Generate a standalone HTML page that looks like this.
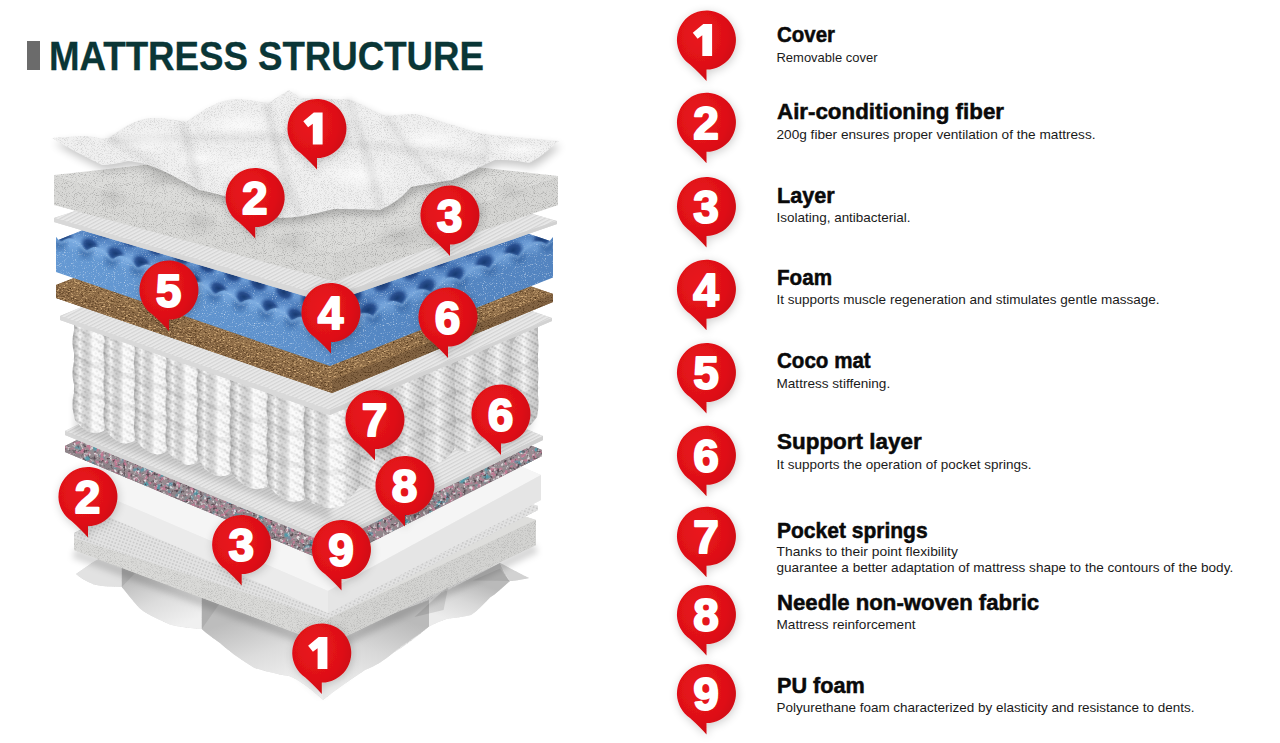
<!DOCTYPE html><html><head><meta charset="utf-8"><style>svg text{font-family:"Liberation Sans", sans-serif}html,body{margin:0;padding:0;background:#fff;width:1280px;height:743px;overflow:hidden}</style></head><body><svg width="1280" height="743" viewBox="0 0 1280 743" style="display:block">
<defs>
<radialGradient id="rg" cx="0.4" cy="0.35" r="0.7"><stop offset="0" stop-color="#ea161e"/><stop offset="0.65" stop-color="#de1017"/><stop offset="1" stop-color="#c9090f"/></radialGradient>
<filter id="sh" x="-40%" y="-40%" width="180%" height="180%"><feGaussianBlur in="SourceAlpha" stdDeviation="5"/><feOffset dx="1" dy="2"/><feComponentTransfer><feFuncA type="linear" slope="0.2"/></feComponentTransfer><feMerge><feMergeNode/><feMergeNode in="SourceGraphic"/></feMerge></filter>

<linearGradient id="gBlueL" x1="0" y1="0" x2="1" y2="0"><stop offset="0" stop-color="#6599d3"/><stop offset="1" stop-color="#5d90cb"/></linearGradient>
<linearGradient id="gBlueR" x1="0" y1="0" x2="1" y2="0"><stop offset="0" stop-color="#5588c4"/><stop offset="1" stop-color="#5384c0"/></linearGradient>
<pattern id="pMesh" width="3.2" height="3.2" patternUnits="userSpaceOnUse" patternTransform="rotate(62)"><rect width="3.2" height="3.2" fill="#e8e8e8"/><rect width="1.2" height="3.2" fill="#d4d4d4"/></pattern>
<pattern id="pMeshR" width="3.2" height="3.2" patternUnits="userSpaceOnUse" patternTransform="rotate(-62)"><rect width="3.2" height="3.2" fill="#e4e4e4"/><rect width="1.2" height="3.2" fill="#d0d0d0"/></pattern>
<pattern id="pDots" width="3.4" height="3.4" patternUnits="userSpaceOnUse" patternTransform="rotate(20)"><rect width="3.4" height="3.4" fill="#e2e2e2"/><circle cx="1.7" cy="1.7" r="0.85" fill="#c4c4c4"/></pattern>
<pattern id="pKnit" width="4" height="4" patternUnits="userSpaceOnUse" patternTransform="rotate(-30)"><rect width="4" height="4" fill="#f6f6f6"/><circle cx="2" cy="2" r="0.9" fill="#d4d4d4"/></pattern>
<pattern id="pKnitR" width="3.6" height="4" patternUnits="userSpaceOnUse" patternTransform="rotate(30)"><rect width="3.6" height="4" fill="#f2f2f2"/><circle cx="1.8" cy="2" r="0.9" fill="#d0d0d0"/></pattern>
<pattern id="pCrease" width="12" height="8" patternUnits="userSpaceOnUse" patternTransform="rotate(30)"><rect width="12" height="8" fill="#fff" fill-opacity="0"/><rect y="5" width="12" height="2.2" fill="#000" fill-opacity="0.09"/><rect y="2" width="12" height="2" fill="#fff" fill-opacity="0.25"/></pattern>
<linearGradient id="gCol" x1="0" y1="0" x2="1" y2="0"><stop offset="0" stop-color="#000" stop-opacity="0.28"/><stop offset="0.22" stop-color="#000" stop-opacity="0.0"/><stop offset="0.6" stop-color="#fff" stop-opacity="0.55"/><stop offset="0.88" stop-color="#fff" stop-opacity="0.1"/><stop offset="1" stop-color="#000" stop-opacity="0.12"/></linearGradient>
<linearGradient id="gColR" x1="0" y1="0" x2="1" y2="0"><stop offset="0" stop-color="#000" stop-opacity="0.10"/><stop offset="0.45" stop-color="#fff" stop-opacity="0.25"/><stop offset="1" stop-color="#000" stop-opacity="0.18"/></linearGradient>
<radialGradient id="gBump" cx="0.45" cy="0.4" r="0.55"><stop offset="0" stop-color="#6e9fd8"/><stop offset="0.6" stop-color="#5f90cc"/><stop offset="1" stop-color="#4a7bbb" stop-opacity="0"/></radialGradient>
<radialGradient id="gDip" cx="0.5" cy="0.5" r="0.5"><stop offset="0" stop-color="#183a70" stop-opacity="1"/><stop offset="0.55" stop-color="#24498a" stop-opacity="0.9"/><stop offset="1" stop-color="#3a6aac" stop-opacity="0"/></radialGradient>
<linearGradient id="gCoverShade" x1="0" y1="0" x2="0" y2="1"><stop offset="0" stop-color="#fff" stop-opacity="0.25"/><stop offset="1" stop-color="#000" stop-opacity="0.08"/></linearGradient>
<radialGradient id="gFold" cx="0.5" cy="0.5" r="0.5"><stop offset="0" stop-color="#000" stop-opacity="0.08"/><stop offset="1" stop-color="#000" stop-opacity="0"/></radialGradient>
<radialGradient id="gHi" cx="0.5" cy="0.5" r="0.5"><stop offset="0" stop-color="#fff" stop-opacity="0.7"/><stop offset="1" stop-color="#fff" stop-opacity="0"/></radialGradient>
<linearGradient id="gP1" gradientUnits="userSpaceOnUse" x1="150" y1="570" x2="175" y2="628"><stop offset="0" stop-color="#bdbdbd"/><stop offset="0.5" stop-color="#dcdcdc"/><stop offset="1" stop-color="#f0f0f0"/></linearGradient>
<linearGradient id="gP2" gradientUnits="userSpaceOnUse" x1="250" y1="615" x2="275" y2="690"><stop offset="0" stop-color="#bdbdbd"/><stop offset="0.5" stop-color="#dcdcdc"/><stop offset="1" stop-color="#f0f0f0"/></linearGradient>
<linearGradient id="gP3" gradientUnits="userSpaceOnUse" x1="390" y1="615" x2="365" y2="690"><stop offset="0" stop-color="#bababa"/><stop offset="0.5" stop-color="#d8d8d8"/><stop offset="1" stop-color="#ececec"/></linearGradient>
<linearGradient id="gP4" gradientUnits="userSpaceOnUse" x1="470" y1="580" x2="455" y2="622"><stop offset="0" stop-color="#bababa"/><stop offset="0.5" stop-color="#d8d8d8"/><stop offset="1" stop-color="#ececec"/></linearGradient>
<linearGradient id="gPillowL" x1="0" y1="0" x2="0.3" y2="1"><stop offset="0" stop-color="#c9c9c9"/><stop offset="0.45" stop-color="#e4e4e4"/><stop offset="1" stop-color="#eeeeee"/></linearGradient>
<linearGradient id="gPillowR" x1="1" y1="0" x2="0.6" y2="1"><stop offset="0" stop-color="#c6c6c6"/><stop offset="0.45" stop-color="#dedede"/><stop offset="1" stop-color="#e9e9e9"/></linearGradient>
<filter id="blur4" x="-10%" y="-10%" width="120%" height="130%"><feGaussianBlur stdDeviation="4"/></filter><filter id="blur3" x="-20%" y="-20%" width="140%" height="140%"><feGaussianBlur stdDeviation="3"/></filter><filter id="blur1" x="-5%" y="-20%" width="110%" height="140%"><feGaussianBlur stdDeviation="1"/></filter><filter id="nSpeckW" x="0" y="0" width="100%" height="100%" color-interpolation-filters="sRGB"><feTurbulence type="fractalNoise" baseFrequency="0.9" numOctaves="1" seed="2" result="t"/><feColorMatrix in="t" type="matrix" values="0 0 0 0 1 0 0 0 0 1 0 0 0 0 1 2.5 0 0 0 -1.45" result="m"/><feComposite in="m" in2="SourceAlpha" operator="in" result="s"/><feMerge><feMergeNode in="SourceGraphic"/><feMergeNode in="s"/></feMerge></filter><filter id="nSpeckD" x="0" y="0" width="100%" height="100%" color-interpolation-filters="sRGB"><feTurbulence type="fractalNoise" baseFrequency="1.1" numOctaves="1" seed="5" result="t"/><feColorMatrix in="t" type="matrix" values="0 0 0 0 0 0 0 0 0 0 0 0 0 0 0 0.8 0 0 0 -0.42" result="m"/><feComposite in="m" in2="SourceAlpha" operator="in" result="s"/><feMerge><feMergeNode in="SourceGraphic"/><feMergeNode in="s"/></feMerge></filter><filter id="nFine" x="0" y="0" width="100%" height="100%" color-interpolation-filters="sRGB"><feTurbulence type="fractalNoise" baseFrequency="1.3" numOctaves="1" seed="21" result="t"/><feColorMatrix in="t" type="matrix" values="0 0 0 0 0 0 0 0 0 0 0 0 0 0 0 0.45 0 0 0 -0.22" result="m"/><feComposite in="m" in2="SourceAlpha" operator="in" result="s"/><feMerge><feMergeNode in="SourceGraphic"/><feMergeNode in="s"/></feMerge></filter><filter id="nCoco" x="0" y="0" width="100%" height="100%" color-interpolation-filters="sRGB"><feTurbulence type="fractalNoise" baseFrequency="0.6 1.2" numOctaves="2" seed="7" result="t"/><feColorMatrix in="t" type="matrix" values="0 0 0 0 0.28 0 0 0 0 0.18 0 0 0 0 0.08 2.8 0 0 0 -1.4" result="m"/><feComposite in="m" in2="SourceAlpha" operator="in" result="s"/><feMerge><feMergeNode in="SourceGraphic"/><feMergeNode in="s"/></feMerge></filter><filter id="nCocoL" x="0" y="0" width="100%" height="100%" color-interpolation-filters="sRGB"><feTurbulence type="fractalNoise" baseFrequency="0.35 1.2" numOctaves="2" seed="9" result="t"/><feColorMatrix in="t" type="matrix" values="0 0 0 0 0.85 0 0 0 0 0.7 0 0 0 0 0.5 4.0 0 0 0 -2.15" result="m"/><feComposite in="m" in2="SourceAlpha" operator="in" result="s"/><feMerge><feMergeNode in="s"/></feMerge></filter><filter id="nNeedle" x="0" y="0" width="100%" height="100%" color-interpolation-filters="sRGB"><feTurbulence type="fractalNoise" baseFrequency="0.22" numOctaves="2" seed="11" result="t"/><feColorMatrix in="t" type="matrix" values="0 0 0 0 0.76 0 0 0 0 0.48 0 0 0 0 0.58 5 0 0 0 -2.5" result="m"/><feComposite in="m" in2="SourceAlpha" operator="in" result="s"/><feMerge><feMergeNode in="SourceGraphic"/><feMergeNode in="s"/></feMerge></filter><filter id="nNeedleD" x="0" y="0" width="100%" height="100%" color-interpolation-filters="sRGB"><feTurbulence type="fractalNoise" baseFrequency="0.3" numOctaves="2" seed="19" result="t"/><feColorMatrix in="t" type="matrix" values="0 0 0 0 0.35 0 0 0 0 0.3 0 0 0 0 0.33 5 0 0 0 -2.8" result="m"/><feComposite in="m" in2="SourceAlpha" operator="in" result="s"/><feMerge><feMergeNode in="s"/></feMerge></filter><filter id="nNeedle2" x="0" y="0" width="100%" height="100%" color-interpolation-filters="sRGB"><feTurbulence type="fractalNoise" baseFrequency="0.12" numOctaves="2" seed="13" result="t"/><feColorMatrix in="t" type="matrix" values="0 0 0 0 0.32 0 0 0 0 0.6 0 0 0 0 0.66 6 0 0 0 -3.45" result="m"/><feComposite in="m" in2="SourceAlpha" operator="in" result="s"/><feMerge><feMergeNode in="s"/></feMerge></filter><filter id="nNeedle3" x="0" y="0" width="100%" height="100%" color-interpolation-filters="sRGB"><feTurbulence type="fractalNoise" baseFrequency="0.3" numOctaves="2" seed="17" result="t"/><feColorMatrix in="t" type="matrix" values="0 0 0 0 0.88 0 0 0 0 0.86 0 0 0 0 0.87 4.5 0 0 0 -2.5" result="m"/><feComposite in="m" in2="SourceAlpha" operator="in" result="s"/><feMerge><feMergeNode in="s"/></feMerge></filter>
</defs>
<rect width="1280" height="743" fill="#fff"/>
<rect x="27" y="41" width="13" height="29" fill="#6b6b6b"/>
<text x="49" y="70" font-size="41.3" font-weight="bold" fill="#0a3636" stroke="#0a3636" stroke-width="0.3" textLength="435" lengthAdjust="spacingAndGlyphs">MATTRESS STRUCTURE</text>
<g><path d="M76,574 C88,566 96,559 104,557 L121.8,552 L329,625 L448,586 L500,563 L529,578 C520,580 514,581 510,581 C502,588 496,594 490,597.5 C483,605 477,611 471,615 C463,617 455,618 448,618.5 C440,621 434,624 429,626.5 C418,636 405,646 393,653 C385,660 375,666 365,670 C350,680 335,690 323,700 C312,690 300,680 289,676 C275,674 262,670 254.5,668 C238,658 228,650 220,643 C210,636 205,632 201.8,629 C185,628 175,626 169.8,624.6 C155,618 145,613 140,608.6 C132,600 126,592 121.8,587 C110,587 100,586 94,584.6 C86,581 80,578 76,574 Z" fill="#e4e4e4" filter="url(#nFine)"/><path d="M76,574 C88,566 96,559 104,557 L121.8,556 L121.8,587 C110,587 100,586 94,584.6 C86,581 80,578 76,574 Z" fill="#e2e2e2"/><path d="M121.8,556 L201.8,588 L201.8,629 C185,628 175,626 169.8,624.6 C155,618 145,613 140,608.6 C132,600 126,592 121.8,587 Z" fill="url(#gP1)"/><path d="M201.8,590 L323,640 L323,700 C312,690 300,680 289,676 C275,674 262,670 254.5,668 C238,658 228,650 220,643 C210,636 205,632 201.8,629 Z" fill="url(#gP2)"/><path d="M323,640 L429,600 L429,626.5 C418,636 400,646 393,653 C385,660 375,666 365,670 C350,680 335,690 323,700 Z" fill="url(#gP3)"/><path d="M429,600 L500,563 C505,575 508,580 510,581 C502,588 496,594 490,597.5 C483,605 477,611 471,615 C463,617 455,618 448,618.5 C440,621 434,624 429,626.5 Z" fill="url(#gP4)"/><path d="M500,563 C510,568 520,574 529,578 C520,580 514,581 510,581 C506,576 503,570 500,563 Z" fill="#d2d2d2"/><path d="M448.4,586 L414.5,617 L443.6,610 Z" fill="#000" opacity="0.10"/><path d="M472.6,580.5 L509.8,581 L500,568.4 Z" fill="#000" opacity="0.08"/><path d="M121.8,556 L140,568 L121.8,587 Z" fill="#000" opacity="0.08"/><path d="M201.8,590 L222,600 L201.8,629 Z" fill="#000" opacity="0.08"/><path d="M74,553 L328,648 L536,548" fill="none" stroke="#000" stroke-opacity="0.16" stroke-width="10" filter="url(#blur3)"/><path d="M74.0,538.0 L282.0,439.0 L536.0,520.0 L536.0,545.0 L328.0,645.0 L74.0,550.0 Z" fill="#d9d9d7" /><path d="M74.0,538.0 L282.0,439.0 L536.0,520.0 L328.0,619.0 Z" fill="#dededc" /><path d="M74.0,538.0 L328.0,619.0 L328.0,645.0 L74.0,550.0 Z" fill="#d9d9d7" filter="url(#nFine)"/><path d="M328.0,619.0 L536.0,520.0 L536.0,545.0 L328.0,645.0 Z" fill="#d3d3d1" filter="url(#nFine)"/><path d="M74.0,533.0 L284.0,426.0 L538.0,506.0 L538.0,510.0 L328.0,619.0 L74.0,538.0 Z" fill="#d6d6d6" /><path d="M74.0,533.0 L284.0,426.0 L538.0,506.0 L328.0,613.0 Z" fill="url(#pDots)" /><path d="M74.0,533.0 L328.0,613.0 L328.0,619.0 L74.0,538.0 Z" fill="url(#pDots)" /><path d="M328.0,613.0 L538.0,506.0 L538.0,510.0 L328.0,619.0 Z" fill="url(#pDots)" /><path d="M73.0,482.0 L286.0,366.0 L541.0,475.0 L541.0,500.0 L328.0,613.0 L73.0,501.0 Z" fill="#ebebeb" /><path d="M73.0,482.0 L286.0,366.0 L541.0,475.0 L328.0,591.0 Z" fill="#f5f5f5" /><path d="M73.0,482.0 L328.0,591.0 L328.0,613.0 L73.0,501.0 Z" fill="#ebebeb" /><path d="M328.0,591.0 L541.0,475.0 L541.0,500.0 L328.0,613.0 Z" fill="#e5e5e5" /><path d="M65.0,446.0 L277.0,340.0 L542.0,450.0 L542.0,456.0 L330.0,563.0 L65.0,452.0 Z" fill="#8e8489" /><path d="M65.0,446.0 L277.0,340.0 L542.0,450.0 L330.0,556.0 Z" fill="#968c91" filter="url(#nNeedle)"/><path d="M65.0,446.0 L330.0,556.0 L330.0,563.0 L65.0,452.0 Z" fill="#8e8489" filter="url(#nNeedle)"/><path d="M330.0,556.0 L542.0,450.0 L542.0,456.0 L330.0,563.0 Z" fill="#91878c" filter="url(#nNeedle)"/><path d="M65.0,446.0 L290.0,340.0 L542.0,450.0 L542.0,456.0 L330.0,563.0 L65.0,452.0 Z" fill="#000" filter="url(#nNeedle2)"/><path d="M65.0,446.0 L290.0,340.0 L542.0,450.0 L542.0,456.0 L330.0,563.0 L65.0,452.0 Z" fill="#000" filter="url(#nNeedle3)"/><path d="M65.0,446.0 L290.0,340.0 L542.0,450.0 L542.0,456.0 L330.0,563.0 L65.0,452.0 Z" fill="#000" filter="url(#nNeedleD)"/><path d="M65.0,431.0 L278.0,327.0 L543.0,436.0 L543.0,440.0 L330.0,544.0 L65.0,435.0 Z" fill="#d6d6d6" /><path d="M65.0,431.0 L278.0,327.0 L543.0,436.0 L330.0,540.0 Z" fill="url(#pMesh)" /><path d="M65.0,431.0 L330.0,540.0 L330.0,544.0 L65.0,435.0 Z" fill="#d6d6d6" /><path d="M330.0,540.0 L543.0,436.0 L543.0,440.0 L330.0,544.0 Z" fill="#d0d0d0" /><path d="M74.0,320.0 L330.0,408.0 L330.0,498.0 L74.0,410.0 Z" fill="#b4b4b4" /><path d="M330.0,408.0 L538.0,326.0 L538.0,407.0 L330.0,499.0 Z" fill="#b8b8b8" /><path d="M74.0,394.0 L330.0,482.0 L330.0,520.0 L74.0,432.0 Z" fill="#000" opacity="0.12" filter="url(#blur3)"/><path d="M331.0,414.0 Q345.0,390.2 359.0,402.2 L359.0,402.2 L359.8,406.9 L360.3,411.6 L360.5,416.3 L360.3,421.1 L359.8,425.8 L359.0,430.5 L359.8,435.2 L360.3,440.0 L360.5,444.7 L360.3,449.4 L359.8,454.1 L359.0,458.8 L359.8,463.6 L360.3,468.3 L360.5,473.0 L360.3,477.7 L359.8,482.5 L359.0,487.2 Q345.0,507.0 331.0,499.0 L331.0,499.0 L330.2,494.3 L329.7,489.6 L329.5,484.8 L329.7,480.1 L330.2,475.4 L331.0,470.7 L330.2,465.9 L329.7,461.2 L329.5,456.5 L329.7,451.8 L330.2,447.1 L331.0,442.3 L330.2,437.6 L329.7,432.9 L329.5,428.2 L329.7,423.4 L330.2,418.7 L331.0,414.0 Z" fill="url(#pKnitR)"/><path d="M331.0,414.0 Q345.0,390.2 359.0,402.2 L359.0,402.2 L359.8,406.9 L360.3,411.6 L360.5,416.3 L360.3,421.1 L359.8,425.8 L359.0,430.5 L359.8,435.2 L360.3,440.0 L360.5,444.7 L360.3,449.4 L359.8,454.1 L359.0,458.8 L359.8,463.6 L360.3,468.3 L360.5,473.0 L360.3,477.7 L359.8,482.5 L359.0,487.2 Q345.0,507.0 331.0,499.0 L331.0,499.0 L330.2,494.3 L329.7,489.6 L329.5,484.8 L329.7,480.1 L330.2,475.4 L331.0,470.7 L330.2,465.9 L329.7,461.2 L329.5,456.5 L329.7,451.8 L330.2,447.1 L331.0,442.3 L330.2,437.6 L329.7,432.9 L329.5,428.2 L329.7,423.4 L330.2,418.7 L331.0,414.0 Z" fill="url(#pCrease)"/><path d="M331.0,414.0 Q345.0,390.2 359.0,402.2 L359.0,402.2 L359.8,406.9 L360.3,411.6 L360.5,416.3 L360.3,421.1 L359.8,425.8 L359.0,430.5 L359.8,435.2 L360.3,440.0 L360.5,444.7 L360.3,449.4 L359.8,454.1 L359.0,458.8 L359.8,463.6 L360.3,468.3 L360.5,473.0 L360.3,477.7 L359.8,482.5 L359.0,487.2 Q345.0,507.0 331.0,499.0 L331.0,499.0 L330.2,494.3 L329.7,489.6 L329.5,484.8 L329.7,480.1 L330.2,475.4 L331.0,470.7 L330.2,465.9 L329.7,461.2 L329.5,456.5 L329.7,451.8 L330.2,447.1 L331.0,442.3 L330.2,437.6 L329.7,432.9 L329.5,428.2 L329.7,423.4 L330.2,418.7 L331.0,414.0 Z" fill="url(#gColR)"/><path d="M330.0,442.3 Q345.0,441.4 360.0,427.5" stroke="#000" stroke-opacity="0.045" stroke-width="6" fill="none"/><path d="M330.0,470.7 Q345.0,469.8 360.0,455.8" stroke="#000" stroke-opacity="0.045" stroke-width="6" fill="none"/><path d="M361.0,402.2 Q376.0,377.6 391.0,389.6 L391.0,389.6 L391.8,394.3 L392.3,399.0 L392.5,403.7 L392.3,408.4 L391.8,413.2 L391.0,417.9 L391.8,422.6 L392.3,427.3 L392.5,432.1 L392.3,436.8 L391.8,441.5 L391.0,446.2 L391.8,450.9 L392.3,455.7 L392.5,460.4 L392.3,465.1 L391.8,469.8 L391.0,474.6 Q376.0,495.2 361.0,487.2 L361.0,487.2 L360.2,482.5 L359.7,477.7 L359.5,473.0 L359.7,468.3 L360.2,463.6 L361.0,458.8 L360.2,454.1 L359.7,449.4 L359.5,444.7 L359.7,440.0 L360.2,435.2 L361.0,430.5 L360.2,425.8 L359.7,421.1 L359.5,416.3 L359.7,411.6 L360.2,406.9 L361.0,402.2 Z" fill="url(#pKnitR)"/><path d="M361.0,402.2 Q376.0,377.6 391.0,389.6 L391.0,389.6 L391.8,394.3 L392.3,399.0 L392.5,403.7 L392.3,408.4 L391.8,413.2 L391.0,417.9 L391.8,422.6 L392.3,427.3 L392.5,432.1 L392.3,436.8 L391.8,441.5 L391.0,446.2 L391.8,450.9 L392.3,455.7 L392.5,460.4 L392.3,465.1 L391.8,469.8 L391.0,474.6 Q376.0,495.2 361.0,487.2 L361.0,487.2 L360.2,482.5 L359.7,477.7 L359.5,473.0 L359.7,468.3 L360.2,463.6 L361.0,458.8 L360.2,454.1 L359.7,449.4 L359.5,444.7 L359.7,440.0 L360.2,435.2 L361.0,430.5 L360.2,425.8 L359.7,421.1 L359.5,416.3 L359.7,411.6 L360.2,406.9 L361.0,402.2 Z" fill="url(#pCrease)"/><path d="M361.0,402.2 Q376.0,377.6 391.0,389.6 L391.0,389.6 L391.8,394.3 L392.3,399.0 L392.5,403.7 L392.3,408.4 L391.8,413.2 L391.0,417.9 L391.8,422.6 L392.3,427.3 L392.5,432.1 L392.3,436.8 L391.8,441.5 L391.0,446.2 L391.8,450.9 L392.3,455.7 L392.5,460.4 L392.3,465.1 L391.8,469.8 L391.0,474.6 Q376.0,495.2 361.0,487.2 L361.0,487.2 L360.2,482.5 L359.7,477.7 L359.5,473.0 L359.7,468.3 L360.2,463.6 L361.0,458.8 L360.2,454.1 L359.7,449.4 L359.5,444.7 L359.7,440.0 L360.2,435.2 L361.0,430.5 L360.2,425.8 L359.7,421.1 L359.5,416.3 L359.7,411.6 L360.2,406.9 L361.0,402.2 Z" fill="url(#gColR)"/><path d="M360.0,430.5 Q376.0,429.2 392.0,414.9" stroke="#000" stroke-opacity="0.045" stroke-width="6" fill="none"/><path d="M360.0,458.8 Q376.0,457.5 392.0,443.2" stroke="#000" stroke-opacity="0.045" stroke-width="6" fill="none"/><path d="M393.0,389.6 Q408.0,364.9 423.0,376.9 L423.0,376.9 L423.8,381.7 L424.3,386.4 L424.5,391.1 L424.3,395.8 L423.8,400.6 L423.0,405.3 L423.8,410.0 L424.3,414.7 L424.5,419.4 L424.3,424.2 L423.8,428.9 L423.0,433.6 L423.8,438.3 L424.3,443.1 L424.5,447.8 L424.3,452.5 L423.8,457.2 L423.0,461.9 Q408.0,482.6 393.0,474.6 L393.0,474.6 L392.2,469.8 L391.7,465.1 L391.5,460.4 L391.7,455.7 L392.2,450.9 L393.0,446.2 L392.2,441.5 L391.7,436.8 L391.5,432.1 L391.7,427.3 L392.2,422.6 L393.0,417.9 L392.2,413.2 L391.7,408.4 L391.5,403.7 L391.7,399.0 L392.2,394.3 L393.0,389.6 Z" fill="url(#pKnitR)"/><path d="M393.0,389.6 Q408.0,364.9 423.0,376.9 L423.0,376.9 L423.8,381.7 L424.3,386.4 L424.5,391.1 L424.3,395.8 L423.8,400.6 L423.0,405.3 L423.8,410.0 L424.3,414.7 L424.5,419.4 L424.3,424.2 L423.8,428.9 L423.0,433.6 L423.8,438.3 L424.3,443.1 L424.5,447.8 L424.3,452.5 L423.8,457.2 L423.0,461.9 Q408.0,482.6 393.0,474.6 L393.0,474.6 L392.2,469.8 L391.7,465.1 L391.5,460.4 L391.7,455.7 L392.2,450.9 L393.0,446.2 L392.2,441.5 L391.7,436.8 L391.5,432.1 L391.7,427.3 L392.2,422.6 L393.0,417.9 L392.2,413.2 L391.7,408.4 L391.5,403.7 L391.7,399.0 L392.2,394.3 L393.0,389.6 Z" fill="url(#pCrease)"/><path d="M393.0,389.6 Q408.0,364.9 423.0,376.9 L423.0,376.9 L423.8,381.7 L424.3,386.4 L424.5,391.1 L424.3,395.8 L423.8,400.6 L423.0,405.3 L423.8,410.0 L424.3,414.7 L424.5,419.4 L424.3,424.2 L423.8,428.9 L423.0,433.6 L423.8,438.3 L424.3,443.1 L424.5,447.8 L424.3,452.5 L423.8,457.2 L423.0,461.9 Q408.0,482.6 393.0,474.6 L393.0,474.6 L392.2,469.8 L391.7,465.1 L391.5,460.4 L391.7,455.7 L392.2,450.9 L393.0,446.2 L392.2,441.5 L391.7,436.8 L391.5,432.1 L391.7,427.3 L392.2,422.6 L393.0,417.9 L392.2,413.2 L391.7,408.4 L391.5,403.7 L391.7,399.0 L392.2,394.3 L393.0,389.6 Z" fill="url(#gColR)"/><path d="M392.0,417.9 Q408.0,416.6 424.0,402.3" stroke="#000" stroke-opacity="0.045" stroke-width="6" fill="none"/><path d="M392.0,446.2 Q408.0,444.9 424.0,430.6" stroke="#000" stroke-opacity="0.045" stroke-width="6" fill="none"/><path d="M425.0,376.9 Q439.5,352.7 454.0,364.7 L454.0,364.7 L454.8,369.4 L455.3,374.2 L455.5,378.9 L455.3,383.6 L454.8,388.3 L454.0,393.1 L454.8,397.8 L455.3,402.5 L455.5,407.2 L455.3,411.9 L454.8,416.7 L454.0,421.4 L454.8,426.1 L455.3,430.8 L455.5,435.6 L455.3,440.3 L454.8,445.0 L454.0,449.7 Q439.5,469.9 425.0,461.9 L425.0,461.9 L424.2,457.2 L423.7,452.5 L423.5,447.8 L423.7,443.1 L424.2,438.3 L425.0,433.6 L424.2,428.9 L423.7,424.2 L423.5,419.4 L423.7,414.7 L424.2,410.0 L425.0,405.3 L424.2,400.6 L423.7,395.8 L423.5,391.1 L423.7,386.4 L424.2,381.7 L425.0,376.9 Z" fill="url(#pKnitR)"/><path d="M425.0,376.9 Q439.5,352.7 454.0,364.7 L454.0,364.7 L454.8,369.4 L455.3,374.2 L455.5,378.9 L455.3,383.6 L454.8,388.3 L454.0,393.1 L454.8,397.8 L455.3,402.5 L455.5,407.2 L455.3,411.9 L454.8,416.7 L454.0,421.4 L454.8,426.1 L455.3,430.8 L455.5,435.6 L455.3,440.3 L454.8,445.0 L454.0,449.7 Q439.5,469.9 425.0,461.9 L425.0,461.9 L424.2,457.2 L423.7,452.5 L423.5,447.8 L423.7,443.1 L424.2,438.3 L425.0,433.6 L424.2,428.9 L423.7,424.2 L423.5,419.4 L423.7,414.7 L424.2,410.0 L425.0,405.3 L424.2,400.6 L423.7,395.8 L423.5,391.1 L423.7,386.4 L424.2,381.7 L425.0,376.9 Z" fill="url(#pCrease)"/><path d="M425.0,376.9 Q439.5,352.7 454.0,364.7 L454.0,364.7 L454.8,369.4 L455.3,374.2 L455.5,378.9 L455.3,383.6 L454.8,388.3 L454.0,393.1 L454.8,397.8 L455.3,402.5 L455.5,407.2 L455.3,411.9 L454.8,416.7 L454.0,421.4 L454.8,426.1 L455.3,430.8 L455.5,435.6 L455.3,440.3 L454.8,445.0 L454.0,449.7 Q439.5,469.9 425.0,461.9 L425.0,461.9 L424.2,457.2 L423.7,452.5 L423.5,447.8 L423.7,443.1 L424.2,438.3 L425.0,433.6 L424.2,428.9 L423.7,424.2 L423.5,419.4 L423.7,414.7 L424.2,410.0 L425.0,405.3 L424.2,400.6 L423.7,395.8 L423.5,391.1 L423.7,386.4 L424.2,381.7 L425.0,376.9 Z" fill="url(#gColR)"/><path d="M424.0,405.3 Q439.5,404.2 455.0,390.1" stroke="#000" stroke-opacity="0.045" stroke-width="6" fill="none"/><path d="M424.0,433.6 Q439.5,432.5 455.0,418.4" stroke="#000" stroke-opacity="0.045" stroke-width="6" fill="none"/><path d="M456.0,364.7 Q470.5,340.5 485.0,352.5 L485.0,352.5 L485.8,357.2 L486.3,361.9 L486.5,366.7 L486.3,371.4 L485.8,376.1 L485.0,380.8 L485.8,385.6 L486.3,390.3 L486.5,395.0 L486.3,399.7 L485.8,404.4 L485.0,409.2 L485.8,413.9 L486.3,418.6 L486.5,423.3 L486.3,428.1 L485.8,432.8 L485.0,437.5 Q470.5,457.7 456.0,449.7 L456.0,449.7 L455.2,445.0 L454.7,440.3 L454.5,435.6 L454.7,430.8 L455.2,426.1 L456.0,421.4 L455.2,416.7 L454.7,411.9 L454.5,407.2 L454.7,402.5 L455.2,397.8 L456.0,393.1 L455.2,388.3 L454.7,383.6 L454.5,378.9 L454.7,374.2 L455.2,369.4 L456.0,364.7 Z" fill="url(#pKnitR)"/><path d="M456.0,364.7 Q470.5,340.5 485.0,352.5 L485.0,352.5 L485.8,357.2 L486.3,361.9 L486.5,366.7 L486.3,371.4 L485.8,376.1 L485.0,380.8 L485.8,385.6 L486.3,390.3 L486.5,395.0 L486.3,399.7 L485.8,404.4 L485.0,409.2 L485.8,413.9 L486.3,418.6 L486.5,423.3 L486.3,428.1 L485.8,432.8 L485.0,437.5 Q470.5,457.7 456.0,449.7 L456.0,449.7 L455.2,445.0 L454.7,440.3 L454.5,435.6 L454.7,430.8 L455.2,426.1 L456.0,421.4 L455.2,416.7 L454.7,411.9 L454.5,407.2 L454.7,402.5 L455.2,397.8 L456.0,393.1 L455.2,388.3 L454.7,383.6 L454.5,378.9 L454.7,374.2 L455.2,369.4 L456.0,364.7 Z" fill="url(#pCrease)"/><path d="M456.0,364.7 Q470.5,340.5 485.0,352.5 L485.0,352.5 L485.8,357.2 L486.3,361.9 L486.5,366.7 L486.3,371.4 L485.8,376.1 L485.0,380.8 L485.8,385.6 L486.3,390.3 L486.5,395.0 L486.3,399.7 L485.8,404.4 L485.0,409.2 L485.8,413.9 L486.3,418.6 L486.5,423.3 L486.3,428.1 L485.8,432.8 L485.0,437.5 Q470.5,457.7 456.0,449.7 L456.0,449.7 L455.2,445.0 L454.7,440.3 L454.5,435.6 L454.7,430.8 L455.2,426.1 L456.0,421.4 L455.2,416.7 L454.7,411.9 L454.5,407.2 L454.7,402.5 L455.2,397.8 L456.0,393.1 L455.2,388.3 L454.7,383.6 L454.5,378.9 L454.7,374.2 L455.2,369.4 L456.0,364.7 Z" fill="url(#gColR)"/><path d="M455.0,393.1 Q470.5,391.9 486.0,377.8" stroke="#000" stroke-opacity="0.045" stroke-width="6" fill="none"/><path d="M455.0,421.4 Q470.5,420.3 486.0,406.2" stroke="#000" stroke-opacity="0.045" stroke-width="6" fill="none"/><path d="M487.0,352.5 Q499.0,330.2 511.0,342.2 L511.0,342.2 L511.8,347.0 L512.3,351.7 L512.5,356.4 L512.3,361.1 L511.8,365.9 L511.0,370.6 L511.8,375.3 L512.3,380.0 L512.5,384.8 L512.3,389.5 L511.8,394.2 L511.0,398.9 L511.8,403.6 L512.3,408.4 L512.5,413.1 L512.3,417.8 L511.8,422.5 L511.0,427.2 Q499.0,445.5 487.0,437.5 L487.0,437.5 L486.2,432.8 L485.7,428.1 L485.5,423.3 L485.7,418.6 L486.2,413.9 L487.0,409.2 L486.2,404.4 L485.7,399.7 L485.5,395.0 L485.7,390.3 L486.2,385.6 L487.0,380.8 L486.2,376.1 L485.7,371.4 L485.5,366.7 L485.7,361.9 L486.2,357.2 L487.0,352.5 Z" fill="url(#pKnitR)"/><path d="M487.0,352.5 Q499.0,330.2 511.0,342.2 L511.0,342.2 L511.8,347.0 L512.3,351.7 L512.5,356.4 L512.3,361.1 L511.8,365.9 L511.0,370.6 L511.8,375.3 L512.3,380.0 L512.5,384.8 L512.3,389.5 L511.8,394.2 L511.0,398.9 L511.8,403.6 L512.3,408.4 L512.5,413.1 L512.3,417.8 L511.8,422.5 L511.0,427.2 Q499.0,445.5 487.0,437.5 L487.0,437.5 L486.2,432.8 L485.7,428.1 L485.5,423.3 L485.7,418.6 L486.2,413.9 L487.0,409.2 L486.2,404.4 L485.7,399.7 L485.5,395.0 L485.7,390.3 L486.2,385.6 L487.0,380.8 L486.2,376.1 L485.7,371.4 L485.5,366.7 L485.7,361.9 L486.2,357.2 L487.0,352.5 Z" fill="url(#pCrease)"/><path d="M487.0,352.5 Q499.0,330.2 511.0,342.2 L511.0,342.2 L511.8,347.0 L512.3,351.7 L512.5,356.4 L512.3,361.1 L511.8,365.9 L511.0,370.6 L511.8,375.3 L512.3,380.0 L512.5,384.8 L512.3,389.5 L511.8,394.2 L511.0,398.9 L511.8,403.6 L512.3,408.4 L512.5,413.1 L512.3,417.8 L511.8,422.5 L511.0,427.2 Q499.0,445.5 487.0,437.5 L487.0,437.5 L486.2,432.8 L485.7,428.1 L485.5,423.3 L485.7,418.6 L486.2,413.9 L487.0,409.2 L486.2,404.4 L485.7,399.7 L485.5,395.0 L485.7,390.3 L486.2,385.6 L487.0,380.8 L486.2,376.1 L485.7,371.4 L485.5,366.7 L485.7,361.9 L486.2,357.2 L487.0,352.5 Z" fill="url(#gColR)"/><path d="M486.0,380.8 Q499.0,380.7 512.0,367.6" stroke="#000" stroke-opacity="0.045" stroke-width="6" fill="none"/><path d="M486.0,409.2 Q499.0,409.0 512.0,395.9" stroke="#000" stroke-opacity="0.045" stroke-width="6" fill="none"/><path d="M513.0,342.2 Q525.0,320.0 537.0,332.0 L537.0,332.0 L537.8,336.7 L538.3,341.4 L538.5,346.2 L538.3,350.9 L537.8,355.6 L537.0,360.3 L537.8,365.1 L538.3,369.8 L538.5,374.5 L538.3,379.2 L537.8,383.9 L537.0,388.7 L537.8,393.4 L538.3,398.1 L538.5,402.8 L538.3,407.6 L537.8,412.3 L537.0,417.0 Q525.0,435.2 513.0,427.2 L513.0,427.2 L512.2,422.5 L511.7,417.8 L511.5,413.1 L511.7,408.4 L512.2,403.6 L513.0,398.9 L512.2,394.2 L511.7,389.5 L511.5,384.8 L511.7,380.0 L512.2,375.3 L513.0,370.6 L512.2,365.9 L511.7,361.1 L511.5,356.4 L511.7,351.7 L512.2,347.0 L513.0,342.2 Z" fill="url(#pKnitR)"/><path d="M513.0,342.2 Q525.0,320.0 537.0,332.0 L537.0,332.0 L537.8,336.7 L538.3,341.4 L538.5,346.2 L538.3,350.9 L537.8,355.6 L537.0,360.3 L537.8,365.1 L538.3,369.8 L538.5,374.5 L538.3,379.2 L537.8,383.9 L537.0,388.7 L537.8,393.4 L538.3,398.1 L538.5,402.8 L538.3,407.6 L537.8,412.3 L537.0,417.0 Q525.0,435.2 513.0,427.2 L513.0,427.2 L512.2,422.5 L511.7,417.8 L511.5,413.1 L511.7,408.4 L512.2,403.6 L513.0,398.9 L512.2,394.2 L511.7,389.5 L511.5,384.8 L511.7,380.0 L512.2,375.3 L513.0,370.6 L512.2,365.9 L511.7,361.1 L511.5,356.4 L511.7,351.7 L512.2,347.0 L513.0,342.2 Z" fill="url(#pCrease)"/><path d="M513.0,342.2 Q525.0,320.0 537.0,332.0 L537.0,332.0 L537.8,336.7 L538.3,341.4 L538.5,346.2 L538.3,350.9 L537.8,355.6 L537.0,360.3 L537.8,365.1 L538.3,369.8 L538.5,374.5 L538.3,379.2 L537.8,383.9 L537.0,388.7 L537.8,393.4 L538.3,398.1 L538.5,402.8 L538.3,407.6 L537.8,412.3 L537.0,417.0 Q525.0,435.2 513.0,427.2 L513.0,427.2 L512.2,422.5 L511.7,417.8 L511.5,413.1 L511.7,408.4 L512.2,403.6 L513.0,398.9 L512.2,394.2 L511.7,389.5 L511.5,384.8 L511.7,380.0 L512.2,375.3 L513.0,370.6 L512.2,365.9 L511.7,361.1 L511.5,356.4 L511.7,351.7 L512.2,347.0 L513.0,342.2 Z" fill="url(#gColR)"/><path d="M512.0,370.6 Q525.0,370.5 538.0,357.3" stroke="#000" stroke-opacity="0.045" stroke-width="6" fill="none"/><path d="M512.0,398.9 Q525.0,398.8 538.0,385.7" stroke="#000" stroke-opacity="0.045" stroke-width="6" fill="none"/><path d="M75.0,326.0 Q89.5,314.0 104.0,336.7 L104.0,336.7 L105.2,341.9 L106.2,347.1 L106.5,352.3 L106.2,357.5 L105.2,362.8 L104.0,368.0 L105.2,373.2 L106.2,378.4 L106.5,383.7 L106.2,388.9 L105.2,394.1 L104.0,399.3 L105.2,404.5 L106.2,409.8 L106.5,415.0 L106.2,420.2 L105.2,425.4 L104.0,430.7 Q89.5,438.7 75.0,420.0 L75.0,420.0 L73.8,414.8 L72.8,409.6 L72.5,404.3 L72.8,399.1 L73.8,393.9 L75.0,388.7 L73.8,383.4 L72.8,378.2 L72.5,373.0 L72.8,367.8 L73.8,362.6 L75.0,357.3 L73.8,352.1 L72.8,346.9 L72.5,341.7 L72.8,336.4 L73.8,331.2 L75.0,326.0 Z" fill="url(#pKnit)"/><path d="M75.0,326.0 Q89.5,314.0 104.0,336.7 L104.0,336.7 L105.2,341.9 L106.2,347.1 L106.5,352.3 L106.2,357.5 L105.2,362.8 L104.0,368.0 L105.2,373.2 L106.2,378.4 L106.5,383.7 L106.2,388.9 L105.2,394.1 L104.0,399.3 L105.2,404.5 L106.2,409.8 L106.5,415.0 L106.2,420.2 L105.2,425.4 L104.0,430.7 Q89.5,438.7 75.0,420.0 L75.0,420.0 L73.8,414.8 L72.8,409.6 L72.5,404.3 L72.8,399.1 L73.8,393.9 L75.0,388.7 L73.8,383.4 L72.8,378.2 L72.5,373.0 L72.8,367.8 L73.8,362.6 L75.0,357.3 L73.8,352.1 L72.8,346.9 L72.5,341.7 L72.8,336.4 L73.8,331.2 L75.0,326.0 Z" fill="url(#pCrease)"/><path d="M75.0,326.0 Q89.5,314.0 104.0,336.7 L104.0,336.7 L105.2,341.9 L106.2,347.1 L106.5,352.3 L106.2,357.5 L105.2,362.8 L104.0,368.0 L105.2,373.2 L106.2,378.4 L106.5,383.7 L106.2,388.9 L105.2,394.1 L104.0,399.3 L105.2,404.5 L106.2,409.8 L106.5,415.0 L106.2,420.2 L105.2,425.4 L104.0,430.7 Q89.5,438.7 75.0,420.0 L75.0,420.0 L73.8,414.8 L72.8,409.6 L72.5,404.3 L72.8,399.1 L73.8,393.9 L75.0,388.7 L73.8,383.4 L72.8,378.2 L72.5,373.0 L72.8,367.8 L73.8,362.6 L75.0,357.3 L73.8,352.1 L72.8,346.9 L72.5,341.7 L72.8,336.4 L73.8,331.2 L75.0,326.0 Z" fill="url(#gCol)"/><path d="M74.0,357.3 Q89.5,367.7 105.0,365.0" stroke="#000" stroke-opacity="0.045" stroke-width="6" fill="none"/><path d="M74.0,388.7 Q89.5,399.0 105.0,396.3" stroke="#000" stroke-opacity="0.045" stroke-width="6" fill="none"/><path d="M106.0,336.7 Q120.2,324.7 134.5,347.1 L134.5,347.1 L135.8,352.4 L136.7,357.6 L137.0,362.8 L136.7,368.0 L135.8,373.3 L134.5,378.5 L135.8,383.7 L136.7,388.9 L137.0,394.1 L136.7,399.4 L135.8,404.6 L134.5,409.8 L135.8,415.0 L136.7,420.3 L137.0,425.5 L136.7,430.7 L135.8,435.9 L134.5,441.1 Q120.2,449.1 106.0,430.7 L106.0,430.7 L104.8,425.4 L103.8,420.2 L103.5,415.0 L103.8,409.8 L104.8,404.5 L106.0,399.3 L104.8,394.1 L103.8,388.9 L103.5,383.7 L103.8,378.4 L104.8,373.2 L106.0,368.0 L104.8,362.8 L103.8,357.5 L103.5,352.3 L103.8,347.1 L104.8,341.9 L106.0,336.7 Z" fill="url(#pKnit)"/><path d="M106.0,336.7 Q120.2,324.7 134.5,347.1 L134.5,347.1 L135.8,352.4 L136.7,357.6 L137.0,362.8 L136.7,368.0 L135.8,373.3 L134.5,378.5 L135.8,383.7 L136.7,388.9 L137.0,394.1 L136.7,399.4 L135.8,404.6 L134.5,409.8 L135.8,415.0 L136.7,420.3 L137.0,425.5 L136.7,430.7 L135.8,435.9 L134.5,441.1 Q120.2,449.1 106.0,430.7 L106.0,430.7 L104.8,425.4 L103.8,420.2 L103.5,415.0 L103.8,409.8 L104.8,404.5 L106.0,399.3 L104.8,394.1 L103.8,388.9 L103.5,383.7 L103.8,378.4 L104.8,373.2 L106.0,368.0 L104.8,362.8 L103.8,357.5 L103.5,352.3 L103.8,347.1 L104.8,341.9 L106.0,336.7 Z" fill="url(#pCrease)"/><path d="M106.0,336.7 Q120.2,324.7 134.5,347.1 L134.5,347.1 L135.8,352.4 L136.7,357.6 L137.0,362.8 L136.7,368.0 L135.8,373.3 L134.5,378.5 L135.8,383.7 L136.7,388.9 L137.0,394.1 L136.7,399.4 L135.8,404.6 L134.5,409.8 L135.8,415.0 L136.7,420.3 L137.0,425.5 L136.7,430.7 L135.8,435.9 L134.5,441.1 Q120.2,449.1 106.0,430.7 L106.0,430.7 L104.8,425.4 L103.8,420.2 L103.5,415.0 L103.8,409.8 L104.8,404.5 L106.0,399.3 L104.8,394.1 L103.8,388.9 L103.5,383.7 L103.8,378.4 L104.8,373.2 L106.0,368.0 L104.8,362.8 L103.8,357.5 L103.5,352.3 L103.8,347.1 L104.8,341.9 L106.0,336.7 Z" fill="url(#gCol)"/><path d="M105.0,368.0 Q120.2,378.2 135.5,375.5" stroke="#000" stroke-opacity="0.045" stroke-width="6" fill="none"/><path d="M105.0,399.3 Q120.2,409.6 135.5,406.8" stroke="#000" stroke-opacity="0.045" stroke-width="6" fill="none"/><path d="M136.5,347.1 Q151.2,335.1 166.0,358.0 L166.0,358.0 L167.2,363.2 L168.2,368.4 L168.5,373.6 L168.2,378.9 L167.2,384.1 L166.0,389.3 L167.2,394.5 L168.2,399.7 L168.5,405.0 L168.2,410.2 L167.2,415.4 L166.0,420.6 L167.2,425.9 L168.2,431.1 L168.5,436.3 L168.2,441.5 L167.2,446.7 L166.0,452.0 Q151.2,460.0 136.5,441.1 L136.5,441.1 L135.2,435.9 L134.3,430.7 L134.0,425.5 L134.3,420.3 L135.2,415.0 L136.5,409.8 L135.2,404.6 L134.3,399.4 L134.0,394.1 L134.3,388.9 L135.2,383.7 L136.5,378.5 L135.2,373.3 L134.3,368.0 L134.0,362.8 L134.3,357.6 L135.2,352.4 L136.5,347.1 Z" fill="url(#pKnit)"/><path d="M136.5,347.1 Q151.2,335.1 166.0,358.0 L166.0,358.0 L167.2,363.2 L168.2,368.4 L168.5,373.6 L168.2,378.9 L167.2,384.1 L166.0,389.3 L167.2,394.5 L168.2,399.7 L168.5,405.0 L168.2,410.2 L167.2,415.4 L166.0,420.6 L167.2,425.9 L168.2,431.1 L168.5,436.3 L168.2,441.5 L167.2,446.7 L166.0,452.0 Q151.2,460.0 136.5,441.1 L136.5,441.1 L135.2,435.9 L134.3,430.7 L134.0,425.5 L134.3,420.3 L135.2,415.0 L136.5,409.8 L135.2,404.6 L134.3,399.4 L134.0,394.1 L134.3,388.9 L135.2,383.7 L136.5,378.5 L135.2,373.3 L134.3,368.0 L134.0,362.8 L134.3,357.6 L135.2,352.4 L136.5,347.1 Z" fill="url(#pCrease)"/><path d="M136.5,347.1 Q151.2,335.1 166.0,358.0 L166.0,358.0 L167.2,363.2 L168.2,368.4 L168.5,373.6 L168.2,378.9 L167.2,384.1 L166.0,389.3 L167.2,394.5 L168.2,399.7 L168.5,405.0 L168.2,410.2 L167.2,415.4 L166.0,420.6 L167.2,425.9 L168.2,431.1 L168.5,436.3 L168.2,441.5 L167.2,446.7 L166.0,452.0 Q151.2,460.0 136.5,441.1 L136.5,441.1 L135.2,435.9 L134.3,430.7 L134.0,425.5 L134.3,420.3 L135.2,415.0 L136.5,409.8 L135.2,404.6 L134.3,399.4 L134.0,394.1 L134.3,388.9 L135.2,383.7 L136.5,378.5 L135.2,373.3 L134.3,368.0 L134.0,362.8 L134.3,357.6 L135.2,352.4 L136.5,347.1 Z" fill="url(#gCol)"/><path d="M135.5,378.5 Q151.2,388.9 167.0,386.3" stroke="#000" stroke-opacity="0.045" stroke-width="6" fill="none"/><path d="M135.5,409.8 Q151.2,420.2 167.0,417.6" stroke="#000" stroke-opacity="0.045" stroke-width="6" fill="none"/><path d="M168.0,358.0 Q182.5,346.0 197.0,368.6 L197.0,368.6 L198.2,373.8 L199.2,379.1 L199.5,384.3 L199.2,389.5 L198.2,394.7 L197.0,400.0 L198.2,405.2 L199.2,410.4 L199.5,415.6 L199.2,420.8 L198.2,426.1 L197.0,431.3 L198.2,436.5 L199.2,441.7 L199.5,447.0 L199.2,452.2 L198.2,457.4 L197.0,462.6 Q182.5,470.6 168.0,452.0 L168.0,452.0 L166.8,446.7 L165.8,441.5 L165.5,436.3 L165.8,431.1 L166.8,425.9 L168.0,420.6 L166.8,415.4 L165.8,410.2 L165.5,405.0 L165.8,399.7 L166.8,394.5 L168.0,389.3 L166.8,384.1 L165.8,378.9 L165.5,373.6 L165.8,368.4 L166.8,363.2 L168.0,358.0 Z" fill="url(#pKnit)"/><path d="M168.0,358.0 Q182.5,346.0 197.0,368.6 L197.0,368.6 L198.2,373.8 L199.2,379.1 L199.5,384.3 L199.2,389.5 L198.2,394.7 L197.0,400.0 L198.2,405.2 L199.2,410.4 L199.5,415.6 L199.2,420.8 L198.2,426.1 L197.0,431.3 L198.2,436.5 L199.2,441.7 L199.5,447.0 L199.2,452.2 L198.2,457.4 L197.0,462.6 Q182.5,470.6 168.0,452.0 L168.0,452.0 L166.8,446.7 L165.8,441.5 L165.5,436.3 L165.8,431.1 L166.8,425.9 L168.0,420.6 L166.8,415.4 L165.8,410.2 L165.5,405.0 L165.8,399.7 L166.8,394.5 L168.0,389.3 L166.8,384.1 L165.8,378.9 L165.5,373.6 L165.8,368.4 L166.8,363.2 L168.0,358.0 Z" fill="url(#pCrease)"/><path d="M168.0,358.0 Q182.5,346.0 197.0,368.6 L197.0,368.6 L198.2,373.8 L199.2,379.1 L199.5,384.3 L199.2,389.5 L198.2,394.7 L197.0,400.0 L198.2,405.2 L199.2,410.4 L199.5,415.6 L199.2,420.8 L198.2,426.1 L197.0,431.3 L198.2,436.5 L199.2,441.7 L199.5,447.0 L199.2,452.2 L198.2,457.4 L197.0,462.6 Q182.5,470.6 168.0,452.0 L168.0,452.0 L166.8,446.7 L165.8,441.5 L165.5,436.3 L165.8,431.1 L166.8,425.9 L168.0,420.6 L166.8,415.4 L165.8,410.2 L165.5,405.0 L165.8,399.7 L166.8,394.5 L168.0,389.3 L166.8,384.1 L165.8,378.9 L165.5,373.6 L165.8,368.4 L166.8,363.2 L168.0,358.0 Z" fill="url(#gCol)"/><path d="M167.0,389.3 Q182.5,399.6 198.0,397.0" stroke="#000" stroke-opacity="0.045" stroke-width="6" fill="none"/><path d="M167.0,420.6 Q182.5,431.0 198.0,428.3" stroke="#000" stroke-opacity="0.045" stroke-width="6" fill="none"/><path d="M199.0,368.6 Q214.5,356.6 230.0,380.0 L230.0,380.0 L231.2,385.2 L232.2,390.4 L232.5,395.6 L232.2,400.9 L231.2,406.1 L230.0,411.3 L231.2,416.5 L232.2,421.7 L232.5,427.0 L232.2,432.2 L231.2,437.4 L230.0,442.6 L231.2,447.9 L232.2,453.1 L232.5,458.3 L232.2,463.5 L231.2,468.7 L230.0,474.0 Q214.5,482.0 199.0,462.6 L199.0,462.6 L197.8,457.4 L196.8,452.2 L196.5,447.0 L196.8,441.7 L197.8,436.5 L199.0,431.3 L197.8,426.1 L196.8,420.8 L196.5,415.6 L196.8,410.4 L197.8,405.2 L199.0,400.0 L197.8,394.7 L196.8,389.5 L196.5,384.3 L196.8,379.1 L197.8,373.8 L199.0,368.6 Z" fill="url(#pKnit)"/><path d="M199.0,368.6 Q214.5,356.6 230.0,380.0 L230.0,380.0 L231.2,385.2 L232.2,390.4 L232.5,395.6 L232.2,400.9 L231.2,406.1 L230.0,411.3 L231.2,416.5 L232.2,421.7 L232.5,427.0 L232.2,432.2 L231.2,437.4 L230.0,442.6 L231.2,447.9 L232.2,453.1 L232.5,458.3 L232.2,463.5 L231.2,468.7 L230.0,474.0 Q214.5,482.0 199.0,462.6 L199.0,462.6 L197.8,457.4 L196.8,452.2 L196.5,447.0 L196.8,441.7 L197.8,436.5 L199.0,431.3 L197.8,426.1 L196.8,420.8 L196.5,415.6 L196.8,410.4 L197.8,405.2 L199.0,400.0 L197.8,394.7 L196.8,389.5 L196.5,384.3 L196.8,379.1 L197.8,373.8 L199.0,368.6 Z" fill="url(#pCrease)"/><path d="M199.0,368.6 Q214.5,356.6 230.0,380.0 L230.0,380.0 L231.2,385.2 L232.2,390.4 L232.5,395.6 L232.2,400.9 L231.2,406.1 L230.0,411.3 L231.2,416.5 L232.2,421.7 L232.5,427.0 L232.2,432.2 L231.2,437.4 L230.0,442.6 L231.2,447.9 L232.2,453.1 L232.5,458.3 L232.2,463.5 L231.2,468.7 L230.0,474.0 Q214.5,482.0 199.0,462.6 L199.0,462.6 L197.8,457.4 L196.8,452.2 L196.5,447.0 L196.8,441.7 L197.8,436.5 L199.0,431.3 L197.8,426.1 L196.8,420.8 L196.5,415.6 L196.8,410.4 L197.8,405.2 L199.0,400.0 L197.8,394.7 L196.8,389.5 L196.5,384.3 L196.8,379.1 L197.8,373.8 L199.0,368.6 Z" fill="url(#gCol)"/><path d="M198.0,400.0 Q214.5,410.6 231.0,408.3" stroke="#000" stroke-opacity="0.045" stroke-width="6" fill="none"/><path d="M198.0,431.3 Q214.5,442.0 231.0,439.6" stroke="#000" stroke-opacity="0.045" stroke-width="6" fill="none"/><path d="M232.0,380.0 Q249.5,368.0 267.0,392.7 L267.0,392.7 L268.2,397.9 L269.2,403.1 L269.5,408.4 L269.2,413.6 L268.2,418.8 L267.0,424.0 L268.2,429.2 L269.2,434.5 L269.5,439.7 L269.2,444.9 L268.2,450.1 L267.0,455.4 L268.2,460.6 L269.2,465.8 L269.5,471.0 L269.2,476.2 L268.2,481.5 L267.0,486.7 Q249.5,494.7 232.0,474.0 L232.0,474.0 L230.8,468.7 L229.8,463.5 L229.5,458.3 L229.8,453.1 L230.8,447.9 L232.0,442.6 L230.8,437.4 L229.8,432.2 L229.5,427.0 L229.8,421.7 L230.8,416.5 L232.0,411.3 L230.8,406.1 L229.8,400.9 L229.5,395.6 L229.8,390.4 L230.8,385.2 L232.0,380.0 Z" fill="url(#pKnit)"/><path d="M232.0,380.0 Q249.5,368.0 267.0,392.7 L267.0,392.7 L268.2,397.9 L269.2,403.1 L269.5,408.4 L269.2,413.6 L268.2,418.8 L267.0,424.0 L268.2,429.2 L269.2,434.5 L269.5,439.7 L269.2,444.9 L268.2,450.1 L267.0,455.4 L268.2,460.6 L269.2,465.8 L269.5,471.0 L269.2,476.2 L268.2,481.5 L267.0,486.7 Q249.5,494.7 232.0,474.0 L232.0,474.0 L230.8,468.7 L229.8,463.5 L229.5,458.3 L229.8,453.1 L230.8,447.9 L232.0,442.6 L230.8,437.4 L229.8,432.2 L229.5,427.0 L229.8,421.7 L230.8,416.5 L232.0,411.3 L230.8,406.1 L229.8,400.9 L229.5,395.6 L229.8,390.4 L230.8,385.2 L232.0,380.0 Z" fill="url(#pCrease)"/><path d="M232.0,380.0 Q249.5,368.0 267.0,392.7 L267.0,392.7 L268.2,397.9 L269.2,403.1 L269.5,408.4 L269.2,413.6 L268.2,418.8 L267.0,424.0 L268.2,429.2 L269.2,434.5 L269.5,439.7 L269.2,444.9 L268.2,450.1 L267.0,455.4 L268.2,460.6 L269.2,465.8 L269.5,471.0 L269.2,476.2 L268.2,481.5 L267.0,486.7 Q249.5,494.7 232.0,474.0 L232.0,474.0 L230.8,468.7 L229.8,463.5 L229.5,458.3 L229.8,453.1 L230.8,447.9 L232.0,442.6 L230.8,437.4 L229.8,432.2 L229.5,427.0 L229.8,421.7 L230.8,416.5 L232.0,411.3 L230.8,406.1 L229.8,400.9 L229.5,395.6 L229.8,390.4 L230.8,385.2 L232.0,380.0 Z" fill="url(#gCol)"/><path d="M231.0,411.3 Q249.5,422.7 268.0,421.0" stroke="#000" stroke-opacity="0.045" stroke-width="6" fill="none"/><path d="M231.0,442.6 Q249.5,454.0 268.0,452.4" stroke="#000" stroke-opacity="0.045" stroke-width="6" fill="none"/><path d="M269.0,392.7 Q286.5,380.7 304.0,405.4 L304.0,405.4 L305.2,410.6 L306.2,415.9 L306.5,421.1 L306.2,426.3 L305.2,431.5 L304.0,436.7 L305.2,442.0 L306.2,447.2 L306.5,452.4 L306.2,457.6 L305.2,462.9 L304.0,468.1 L305.2,473.3 L306.2,478.5 L306.5,483.7 L306.2,489.0 L305.2,494.2 L304.0,499.4 Q286.5,507.4 269.0,486.7 L269.0,486.7 L267.8,481.5 L266.8,476.2 L266.5,471.0 L266.8,465.8 L267.8,460.6 L269.0,455.4 L267.8,450.1 L266.8,444.9 L266.5,439.7 L266.8,434.5 L267.8,429.2 L269.0,424.0 L267.8,418.8 L266.8,413.6 L266.5,408.4 L266.8,403.1 L267.8,397.9 L269.0,392.7 Z" fill="url(#pKnit)"/><path d="M269.0,392.7 Q286.5,380.7 304.0,405.4 L304.0,405.4 L305.2,410.6 L306.2,415.9 L306.5,421.1 L306.2,426.3 L305.2,431.5 L304.0,436.7 L305.2,442.0 L306.2,447.2 L306.5,452.4 L306.2,457.6 L305.2,462.9 L304.0,468.1 L305.2,473.3 L306.2,478.5 L306.5,483.7 L306.2,489.0 L305.2,494.2 L304.0,499.4 Q286.5,507.4 269.0,486.7 L269.0,486.7 L267.8,481.5 L266.8,476.2 L266.5,471.0 L266.8,465.8 L267.8,460.6 L269.0,455.4 L267.8,450.1 L266.8,444.9 L266.5,439.7 L266.8,434.5 L267.8,429.2 L269.0,424.0 L267.8,418.8 L266.8,413.6 L266.5,408.4 L266.8,403.1 L267.8,397.9 L269.0,392.7 Z" fill="url(#pCrease)"/><path d="M269.0,392.7 Q286.5,380.7 304.0,405.4 L304.0,405.4 L305.2,410.6 L306.2,415.9 L306.5,421.1 L306.2,426.3 L305.2,431.5 L304.0,436.7 L305.2,442.0 L306.2,447.2 L306.5,452.4 L306.2,457.6 L305.2,462.9 L304.0,468.1 L305.2,473.3 L306.2,478.5 L306.5,483.7 L306.2,489.0 L305.2,494.2 L304.0,499.4 Q286.5,507.4 269.0,486.7 L269.0,486.7 L267.8,481.5 L266.8,476.2 L266.5,471.0 L266.8,465.8 L267.8,460.6 L269.0,455.4 L267.8,450.1 L266.8,444.9 L266.5,439.7 L266.8,434.5 L267.8,429.2 L269.0,424.0 L267.8,418.8 L266.8,413.6 L266.5,408.4 L266.8,403.1 L267.8,397.9 L269.0,392.7 Z" fill="url(#gCol)"/><path d="M268.0,424.0 Q286.5,435.4 305.0,433.7" stroke="#000" stroke-opacity="0.045" stroke-width="6" fill="none"/><path d="M268.0,455.4 Q286.5,466.7 305.0,465.1" stroke="#000" stroke-opacity="0.045" stroke-width="6" fill="none"/><path d="M306.0,405.4 Q326.0,393.4 346.0,411.0 L346.0,411.0 L347.2,416.2 L348.2,421.4 L348.5,426.7 L348.2,431.9 L347.2,437.1 L346.0,442.3 L347.2,447.6 L348.2,452.8 L348.5,458.0 L348.2,463.2 L347.2,468.4 L346.0,473.7 L347.2,478.9 L348.2,484.1 L348.5,489.3 L348.2,494.6 L347.2,499.8 L346.0,505.0 Q326.0,513.0 306.0,499.4 L306.0,499.4 L304.8,494.2 L303.8,489.0 L303.5,483.7 L303.8,478.5 L304.8,473.3 L306.0,468.1 L304.8,462.9 L303.8,457.6 L303.5,452.4 L303.8,447.2 L304.8,442.0 L306.0,436.7 L304.8,431.5 L303.8,426.3 L303.5,421.1 L303.8,415.9 L304.8,410.6 L306.0,405.4 Z" fill="url(#pKnit)"/><path d="M306.0,405.4 Q326.0,393.4 346.0,411.0 L346.0,411.0 L347.2,416.2 L348.2,421.4 L348.5,426.7 L348.2,431.9 L347.2,437.1 L346.0,442.3 L347.2,447.6 L348.2,452.8 L348.5,458.0 L348.2,463.2 L347.2,468.4 L346.0,473.7 L347.2,478.9 L348.2,484.1 L348.5,489.3 L348.2,494.6 L347.2,499.8 L346.0,505.0 Q326.0,513.0 306.0,499.4 L306.0,499.4 L304.8,494.2 L303.8,489.0 L303.5,483.7 L303.8,478.5 L304.8,473.3 L306.0,468.1 L304.8,462.9 L303.8,457.6 L303.5,452.4 L303.8,447.2 L304.8,442.0 L306.0,436.7 L304.8,431.5 L303.8,426.3 L303.5,421.1 L303.8,415.9 L304.8,410.6 L306.0,405.4 Z" fill="url(#pCrease)"/><path d="M306.0,405.4 Q326.0,393.4 346.0,411.0 L346.0,411.0 L347.2,416.2 L348.2,421.4 L348.5,426.7 L348.2,431.9 L347.2,437.1 L346.0,442.3 L347.2,447.6 L348.2,452.8 L348.5,458.0 L348.2,463.2 L347.2,468.4 L346.0,473.7 L347.2,478.9 L348.2,484.1 L348.5,489.3 L348.2,494.6 L347.2,499.8 L346.0,505.0 Q326.0,513.0 306.0,499.4 L306.0,499.4 L304.8,494.2 L303.8,489.0 L303.5,483.7 L303.8,478.5 L304.8,473.3 L306.0,468.1 L304.8,462.9 L303.8,457.6 L303.5,452.4 L303.8,447.2 L304.8,442.0 L306.0,436.7 L304.8,431.5 L303.8,426.3 L303.5,421.1 L303.8,415.9 L304.8,410.6 L306.0,405.4 Z" fill="url(#gCol)"/><path d="M305.0,436.7 Q326.0,444.5 347.0,439.3" stroke="#000" stroke-opacity="0.045" stroke-width="6" fill="none"/><path d="M305.0,468.1 Q326.0,475.9 347.0,470.7" stroke="#000" stroke-opacity="0.045" stroke-width="6" fill="none"/><path d="M60.0,316.0 L282.0,224.0 L552.0,318.0 L552.0,321.0 L330.0,415.0 L60.0,320.0 Z" fill="#d9d9d9" /><path d="M60.0,316.0 L282.0,224.0 L552.0,318.0 L330.0,410.0 Z" fill="url(#pMesh)" /><path d="M60.0,316.0 L330.0,410.0 L330.0,415.0 L60.0,320.0 Z" fill="#d9d9d9" /><path d="M330.0,410.0 L552.0,318.0 L552.0,321.0 L330.0,415.0 Z" fill="#d3d3d3" /><path d="M56.0,285.0 L277.0,199.0 L553.0,294.0 L553.0,302.0 L332.0,393.0 L56.0,298.0 Z" fill="#8a6946" /><path d="M56.0,285.0 L277.0,199.0 L553.0,294.0 L332.0,380.0 Z" fill="#94724c" filter="url(#nCoco)"/><path d="M56.0,285.0 L332.0,380.0 L332.0,393.0 L56.0,298.0 Z" fill="#8a6946" filter="url(#nCoco)"/><path d="M332.0,380.0 L553.0,294.0 L553.0,302.0 L332.0,393.0 Z" fill="#836443" filter="url(#nCoco)"/><path d="M56.0,285.0 L332.0,380.0 L553.0,294.0 L300.0,200.0 Z" fill="#000" filter="url(#nCocoL)"/><path d="M56.0,285.0 L332.0,380.0 L332.0,393.0 L56.0,298.0 Z" fill="#fff" filter="url(#nCocoL)"/><clipPath id="cBlueTop"><path d="M56.0,241.0 L280.0,150.0 L553.0,242.0 L330.0,334.0 Z"/></clipPath><path d="M56.0,241.0 L280.0,150.0 L553.0,242.0 L330.0,334.0 Z" fill="#4776b6" filter="url(#nSpeckW)"/><g clip-path="url(#cBlueTop)"><ellipse cx="65.4" cy="217.1" rx="11" ry="7" fill="#74a5dd" opacity="0.8" filter="url(#blur3)"/><ellipse cx="91.1" cy="225.8" rx="11" ry="7" fill="#74a5dd" opacity="0.8" filter="url(#blur3)"/><ellipse cx="116.8" cy="234.5" rx="11" ry="7" fill="#74a5dd" opacity="0.8" filter="url(#blur3)"/><ellipse cx="142.6" cy="243.3" rx="11" ry="7" fill="#74a5dd" opacity="0.8" filter="url(#blur3)"/><ellipse cx="168.3" cy="252.0" rx="11" ry="7" fill="#74a5dd" opacity="0.8" filter="url(#blur3)"/><ellipse cx="194.0" cy="260.7" rx="11" ry="7" fill="#74a5dd" opacity="0.8" filter="url(#blur3)"/><ellipse cx="219.7" cy="269.4" rx="11" ry="7" fill="#74a5dd" opacity="0.8" filter="url(#blur3)"/><ellipse cx="245.4" cy="278.2" rx="11" ry="7" fill="#74a5dd" opacity="0.8" filter="url(#blur3)"/><ellipse cx="271.1" cy="286.9" rx="11" ry="7" fill="#74a5dd" opacity="0.8" filter="url(#blur3)"/><ellipse cx="296.8" cy="295.6" rx="11" ry="7" fill="#74a5dd" opacity="0.8" filter="url(#blur3)"/><ellipse cx="322.5" cy="304.3" rx="11" ry="7" fill="#74a5dd" opacity="0.8" filter="url(#blur3)"/><ellipse cx="348.2" cy="313.1" rx="11" ry="7" fill="#74a5dd" opacity="0.8" filter="url(#blur3)"/><ellipse cx="310.0" cy="313.0" rx="12" ry="7" fill="#74a5dd" opacity="0.7" filter="url(#blur3)"/><ellipse cx="339.0" cy="301.1" rx="12" ry="7" fill="#74a5dd" opacity="0.7" filter="url(#blur3)"/><ellipse cx="367.9" cy="289.1" rx="12" ry="7" fill="#74a5dd" opacity="0.7" filter="url(#blur3)"/><ellipse cx="396.9" cy="277.2" rx="12" ry="7" fill="#74a5dd" opacity="0.7" filter="url(#blur3)"/><ellipse cx="425.8" cy="265.2" rx="12" ry="7" fill="#74a5dd" opacity="0.7" filter="url(#blur3)"/><ellipse cx="454.8" cy="253.3" rx="12" ry="7" fill="#74a5dd" opacity="0.7" filter="url(#blur3)"/><ellipse cx="483.8" cy="241.3" rx="12" ry="7" fill="#74a5dd" opacity="0.7" filter="url(#blur3)"/><ellipse cx="512.7" cy="229.4" rx="12" ry="7" fill="#74a5dd" opacity="0.7" filter="url(#blur3)"/><ellipse cx="541.7" cy="217.4" rx="12" ry="7" fill="#74a5dd" opacity="0.7" filter="url(#blur3)"/><ellipse cx="51.4" cy="231.1" rx="11" ry="7" fill="#74a5dd" opacity="0.8" filter="url(#blur3)"/><ellipse cx="77.1" cy="239.8" rx="11" ry="7" fill="#74a5dd" opacity="0.8" filter="url(#blur3)"/><ellipse cx="102.8" cy="248.5" rx="11" ry="7" fill="#74a5dd" opacity="0.8" filter="url(#blur3)"/><ellipse cx="128.6" cy="257.3" rx="11" ry="7" fill="#74a5dd" opacity="0.8" filter="url(#blur3)"/><ellipse cx="154.3" cy="266.0" rx="11" ry="7" fill="#74a5dd" opacity="0.8" filter="url(#blur3)"/><ellipse cx="180.0" cy="274.7" rx="11" ry="7" fill="#74a5dd" opacity="0.8" filter="url(#blur3)"/><ellipse cx="205.7" cy="283.4" rx="11" ry="7" fill="#74a5dd" opacity="0.8" filter="url(#blur3)"/><ellipse cx="231.4" cy="292.2" rx="11" ry="7" fill="#74a5dd" opacity="0.8" filter="url(#blur3)"/><ellipse cx="257.1" cy="300.9" rx="11" ry="7" fill="#74a5dd" opacity="0.8" filter="url(#blur3)"/><ellipse cx="282.8" cy="309.6" rx="11" ry="7" fill="#74a5dd" opacity="0.8" filter="url(#blur3)"/><ellipse cx="308.5" cy="318.3" rx="11" ry="7" fill="#74a5dd" opacity="0.8" filter="url(#blur3)"/><ellipse cx="334.2" cy="327.1" rx="11" ry="7" fill="#74a5dd" opacity="0.8" filter="url(#blur3)"/><ellipse cx="325.0" cy="327.0" rx="12" ry="7" fill="#74a5dd" opacity="0.7" filter="url(#blur3)"/><ellipse cx="354.0" cy="315.1" rx="12" ry="7" fill="#74a5dd" opacity="0.7" filter="url(#blur3)"/><ellipse cx="382.9" cy="303.1" rx="12" ry="7" fill="#74a5dd" opacity="0.7" filter="url(#blur3)"/><ellipse cx="411.9" cy="291.2" rx="12" ry="7" fill="#74a5dd" opacity="0.7" filter="url(#blur3)"/><ellipse cx="440.8" cy="279.2" rx="12" ry="7" fill="#74a5dd" opacity="0.7" filter="url(#blur3)"/><ellipse cx="469.8" cy="267.3" rx="12" ry="7" fill="#74a5dd" opacity="0.7" filter="url(#blur3)"/><ellipse cx="498.8" cy="255.3" rx="12" ry="7" fill="#74a5dd" opacity="0.7" filter="url(#blur3)"/><ellipse cx="527.7" cy="243.4" rx="12" ry="7" fill="#74a5dd" opacity="0.7" filter="url(#blur3)"/><ellipse cx="556.7" cy="231.4" rx="12" ry="7" fill="#74a5dd" opacity="0.7" filter="url(#blur3)"/><ellipse cx="78.3" cy="222.5" rx="8" ry="11.5" transform="rotate(-58 78.3 222.5)" fill="url(#gDip)"/><ellipse cx="104.0" cy="231.2" rx="8" ry="11.5" transform="rotate(-58 104.0 231.2)" fill="url(#gDip)"/><ellipse cx="129.7" cy="239.9" rx="8" ry="11.5" transform="rotate(-58 129.7 239.9)" fill="url(#gDip)"/><ellipse cx="155.4" cy="248.6" rx="8" ry="11.5" transform="rotate(-58 155.4 248.6)" fill="url(#gDip)"/><ellipse cx="181.1" cy="257.4" rx="8" ry="11.5" transform="rotate(-58 181.1 257.4)" fill="url(#gDip)"/><ellipse cx="206.8" cy="266.1" rx="8" ry="11.5" transform="rotate(-58 206.8 266.1)" fill="url(#gDip)"/><ellipse cx="232.5" cy="274.8" rx="8" ry="11.5" transform="rotate(-58 232.5 274.8)" fill="url(#gDip)"/><ellipse cx="258.2" cy="283.5" rx="8" ry="11.5" transform="rotate(-58 258.2 283.5)" fill="url(#gDip)"/><ellipse cx="283.9" cy="292.3" rx="8" ry="11.5" transform="rotate(-58 283.9 292.3)" fill="url(#gDip)"/><ellipse cx="309.6" cy="301.0" rx="8" ry="11.5" transform="rotate(-58 309.6 301.0)" fill="url(#gDip)"/><ellipse cx="335.3" cy="309.7" rx="8" ry="11.5" transform="rotate(-58 335.3 309.7)" fill="url(#gDip)"/><ellipse cx="324.5" cy="308.0" rx="9" ry="12.5" transform="rotate(58 324.5 308.0)" fill="url(#gDip)"/><ellipse cx="353.4" cy="296.1" rx="9" ry="12.5" transform="rotate(58 353.4 296.1)" fill="url(#gDip)"/><ellipse cx="382.4" cy="284.1" rx="9" ry="12.5" transform="rotate(58 382.4 284.1)" fill="url(#gDip)"/><ellipse cx="411.4" cy="272.2" rx="9" ry="12.5" transform="rotate(58 411.4 272.2)" fill="url(#gDip)"/><ellipse cx="440.3" cy="260.2" rx="9" ry="12.5" transform="rotate(58 440.3 260.2)" fill="url(#gDip)"/><ellipse cx="469.3" cy="248.3" rx="9" ry="12.5" transform="rotate(58 469.3 248.3)" fill="url(#gDip)"/><ellipse cx="498.2" cy="236.3" rx="9" ry="12.5" transform="rotate(58 498.2 236.3)" fill="url(#gDip)"/><ellipse cx="527.2" cy="224.4" rx="9" ry="12.5" transform="rotate(58 527.2 224.4)" fill="url(#gDip)"/><ellipse cx="64.3" cy="236.5" rx="8" ry="11.5" transform="rotate(-58 64.3 236.5)" fill="url(#gDip)"/><ellipse cx="90.0" cy="245.2" rx="8" ry="11.5" transform="rotate(-58 90.0 245.2)" fill="url(#gDip)"/><ellipse cx="115.7" cy="253.9" rx="8" ry="11.5" transform="rotate(-58 115.7 253.9)" fill="url(#gDip)"/><ellipse cx="141.4" cy="262.6" rx="8" ry="11.5" transform="rotate(-58 141.4 262.6)" fill="url(#gDip)"/><ellipse cx="167.1" cy="271.4" rx="8" ry="11.5" transform="rotate(-58 167.1 271.4)" fill="url(#gDip)"/><ellipse cx="192.8" cy="280.1" rx="8" ry="11.5" transform="rotate(-58 192.8 280.1)" fill="url(#gDip)"/><ellipse cx="218.5" cy="288.8" rx="8" ry="11.5" transform="rotate(-58 218.5 288.8)" fill="url(#gDip)"/><ellipse cx="244.2" cy="297.5" rx="8" ry="11.5" transform="rotate(-58 244.2 297.5)" fill="url(#gDip)"/><ellipse cx="269.9" cy="306.3" rx="8" ry="11.5" transform="rotate(-58 269.9 306.3)" fill="url(#gDip)"/><ellipse cx="295.6" cy="315.0" rx="8" ry="11.5" transform="rotate(-58 295.6 315.0)" fill="url(#gDip)"/><ellipse cx="321.3" cy="323.7" rx="8" ry="11.5" transform="rotate(-58 321.3 323.7)" fill="url(#gDip)"/><ellipse cx="339.5" cy="322.0" rx="9" ry="12.5" transform="rotate(58 339.5 322.0)" fill="url(#gDip)"/><ellipse cx="368.4" cy="310.1" rx="9" ry="12.5" transform="rotate(58 368.4 310.1)" fill="url(#gDip)"/><ellipse cx="397.4" cy="298.1" rx="9" ry="12.5" transform="rotate(58 397.4 298.1)" fill="url(#gDip)"/><ellipse cx="426.4" cy="286.2" rx="9" ry="12.5" transform="rotate(58 426.4 286.2)" fill="url(#gDip)"/><ellipse cx="455.3" cy="274.2" rx="9" ry="12.5" transform="rotate(58 455.3 274.2)" fill="url(#gDip)"/><ellipse cx="484.3" cy="262.3" rx="9" ry="12.5" transform="rotate(58 484.3 262.3)" fill="url(#gDip)"/><ellipse cx="513.2" cy="250.3" rx="9" ry="12.5" transform="rotate(58 513.2 250.3)" fill="url(#gDip)"/><ellipse cx="542.2" cy="238.4" rx="9" ry="12.5" transform="rotate(58 542.2 238.4)" fill="url(#gDip)"/></g><path d="M56.0,236.7 L58.6,239.9 L61.2,241.7 L63.8,240.0 L66.3,238.9 L68.9,238.3 L71.5,238.4 L74.1,239.2 L76.7,240.7 L79.3,242.8 L81.8,245.6 L84.4,248.9 L87.0,250.3 L89.6,248.7 L92.2,247.6 L94.8,247.0 L97.4,247.2 L99.9,248.0 L102.5,249.5 L105.1,251.7 L107.7,254.5 L110.3,257.8 L112.9,258.9 L115.5,257.3 L118.0,256.3 L120.6,255.8 L123.2,255.9 L125.8,256.8 L128.4,258.3 L131.0,260.6 L133.5,263.4 L136.1,266.7 L138.7,267.5 L141.3,266.0 L143.9,264.9 L146.5,264.5 L149.1,264.7 L151.6,265.6 L154.2,267.2 L156.8,269.4 L159.4,272.3 L162.0,275.6 L164.6,276.2 L167.2,274.6 L169.7,273.6 L172.3,273.2 L174.9,273.4 L177.5,274.4 L180.1,276.0 L182.7,278.3 L185.2,281.2 L187.8,284.6 L190.4,284.8 L193.0,283.3 L195.6,282.3 L198.2,281.9 L200.8,282.2 L203.3,283.2 L205.9,284.8 L208.5,287.2 L211.1,290.1 L213.7,293.5 L216.3,293.4 L218.8,291.9 L221.4,291.0 L224.0,290.6 L226.6,290.9 L229.2,292.0 L231.8,293.7 L234.4,296.1 L236.9,299.0 L239.5,302.4 L242.1,302.0 L244.7,300.6 L247.3,299.7 L249.9,299.3 L252.5,299.7 L255.0,300.8 L257.6,302.5 L260.2,304.9 L262.8,307.9 L265.4,311.4 L268.0,310.7 L270.5,309.3 L273.1,308.4 L275.7,308.1 L278.3,308.5 L280.9,309.6 L283.5,311.4 L286.1,313.8 L288.6,316.8 L291.2,320.3 L293.8,319.3 L296.4,317.9 L299.0,317.1 L301.6,316.8 L304.2,317.2 L306.7,318.4 L309.3,320.2 L311.9,322.7 L314.5,325.7 L317.1,329.3 L319.7,327.9 L322.2,326.6 L324.8,325.7 L327.4,325.5 L330.0,326.0 L330.0,366.0 L56.0,272.0 Z" fill="url(#gBlueL)" filter="url(#nSpeckW)"/><path d="M330.0,326.0 L332.9,325.2 L335.8,325.0 L338.7,325.5 L341.6,326.4 L344.5,328.0 L347.4,324.1 L350.3,320.7 L353.2,317.8 L356.1,315.6 L359.0,314.1 L361.9,313.2 L364.8,313.1 L367.6,313.5 L370.5,314.5 L373.4,316.1 L376.3,312.1 L379.2,308.7 L382.1,305.9 L385.0,303.7 L387.9,302.1 L390.8,301.3 L393.7,301.1 L396.6,301.6 L399.5,302.5 L402.4,304.1 L405.3,300.2 L408.2,296.8 L411.1,293.9 L414.0,291.7 L416.9,290.2 L419.8,289.3 L422.7,289.2 L425.6,289.6 L428.5,290.6 L431.4,292.2 L434.3,288.2 L437.2,284.8 L440.1,282.0 L442.9,279.8 L445.8,278.2 L448.7,277.4 L451.6,277.2 L454.5,277.7 L457.4,278.6 L460.3,280.2 L463.2,276.3 L466.1,272.9 L469.0,270.0 L471.9,267.8 L474.8,266.3 L477.7,265.4 L480.6,265.3 L483.5,265.7 L486.4,266.7 L489.3,268.3 L492.2,264.3 L495.1,260.9 L498.0,258.1 L500.9,255.9 L503.8,254.3 L506.7,253.5 L509.6,253.3 L512.5,253.8 L515.4,254.8 L518.2,256.3 L521.1,252.4 L524.0,249.0 L526.9,246.1 L529.8,243.9 L532.7,242.4 L535.6,241.5 L538.5,241.4 L541.4,241.8 L544.3,242.8 L547.2,244.4 L550.1,240.4 L553.0,237.0 L553.0,277.5 L330.0,366.0 Z" fill="url(#gBlueR)" filter="url(#nSpeckW)"/><clipPath id="cBlueAll"><path d="M56.0,241.0 L280.0,150.0 L553.0,242.0 L553.0,277.5 L330.0,366.0 L56.0,272.0 Z"/></clipPath><g clip-path="url(#cBlueAll)"><ellipse cx="73.1" cy="243.8" rx="9" ry="5" fill="#8ab8ea" opacity="0.55" filter="url(#blur3)"/><ellipse cx="98.8" cy="252.5" rx="9" ry="5" fill="#8ab8ea" opacity="0.55" filter="url(#blur3)"/><ellipse cx="124.6" cy="261.3" rx="9" ry="5" fill="#8ab8ea" opacity="0.55" filter="url(#blur3)"/><ellipse cx="150.3" cy="270.0" rx="9" ry="5" fill="#8ab8ea" opacity="0.55" filter="url(#blur3)"/><ellipse cx="176.0" cy="278.7" rx="9" ry="5" fill="#8ab8ea" opacity="0.55" filter="url(#blur3)"/><ellipse cx="201.7" cy="287.4" rx="9" ry="5" fill="#8ab8ea" opacity="0.55" filter="url(#blur3)"/><ellipse cx="227.4" cy="296.2" rx="9" ry="5" fill="#8ab8ea" opacity="0.55" filter="url(#blur3)"/><ellipse cx="253.1" cy="304.9" rx="9" ry="5" fill="#8ab8ea" opacity="0.55" filter="url(#blur3)"/><ellipse cx="278.8" cy="313.6" rx="9" ry="5" fill="#8ab8ea" opacity="0.55" filter="url(#blur3)"/><ellipse cx="304.5" cy="322.3" rx="9" ry="5" fill="#8ab8ea" opacity="0.55" filter="url(#blur3)"/><ellipse cx="330.0" cy="331.0" rx="10" ry="5" fill="#8ab8ea" opacity="0.45" filter="url(#blur3)"/><ellipse cx="344.5" cy="329.0" rx="6" ry="6" fill="#1f4a88" opacity="0.5" filter="url(#blur3)"/><ellipse cx="359.0" cy="319.1" rx="10" ry="5" fill="#8ab8ea" opacity="0.45" filter="url(#blur3)"/><ellipse cx="373.4" cy="317.1" rx="6" ry="6" fill="#1f4a88" opacity="0.5" filter="url(#blur3)"/><ellipse cx="387.9" cy="307.1" rx="10" ry="5" fill="#8ab8ea" opacity="0.45" filter="url(#blur3)"/><ellipse cx="402.4" cy="305.1" rx="6" ry="6" fill="#1f4a88" opacity="0.5" filter="url(#blur3)"/><ellipse cx="416.9" cy="295.2" rx="10" ry="5" fill="#8ab8ea" opacity="0.45" filter="url(#blur3)"/><ellipse cx="431.4" cy="293.2" rx="6" ry="6" fill="#1f4a88" opacity="0.5" filter="url(#blur3)"/><ellipse cx="445.8" cy="283.2" rx="10" ry="5" fill="#8ab8ea" opacity="0.45" filter="url(#blur3)"/><ellipse cx="460.3" cy="281.2" rx="6" ry="6" fill="#1f4a88" opacity="0.5" filter="url(#blur3)"/><ellipse cx="474.8" cy="271.3" rx="10" ry="5" fill="#8ab8ea" opacity="0.45" filter="url(#blur3)"/><ellipse cx="489.3" cy="269.3" rx="6" ry="6" fill="#1f4a88" opacity="0.5" filter="url(#blur3)"/><ellipse cx="503.8" cy="259.3" rx="10" ry="5" fill="#8ab8ea" opacity="0.45" filter="url(#blur3)"/><ellipse cx="518.2" cy="257.3" rx="6" ry="6" fill="#1f4a88" opacity="0.5" filter="url(#blur3)"/><ellipse cx="532.7" cy="247.4" rx="10" ry="5" fill="#8ab8ea" opacity="0.45" filter="url(#blur3)"/><ellipse cx="547.2" cy="245.4" rx="6" ry="6" fill="#1f4a88" opacity="0.5" filter="url(#blur3)"/><ellipse cx="60.3" cy="243.5" rx="6" ry="6" fill="#1f4a88" opacity="0.55" filter="url(#blur3)"/><ellipse cx="86.0" cy="252.2" rx="6" ry="6" fill="#1f4a88" opacity="0.55" filter="url(#blur3)"/><ellipse cx="111.7" cy="260.9" rx="6" ry="6" fill="#1f4a88" opacity="0.55" filter="url(#blur3)"/><ellipse cx="137.4" cy="269.6" rx="6" ry="6" fill="#1f4a88" opacity="0.55" filter="url(#blur3)"/><ellipse cx="163.1" cy="278.4" rx="6" ry="6" fill="#1f4a88" opacity="0.55" filter="url(#blur3)"/><ellipse cx="188.8" cy="287.1" rx="6" ry="6" fill="#1f4a88" opacity="0.55" filter="url(#blur3)"/><ellipse cx="214.5" cy="295.8" rx="6" ry="6" fill="#1f4a88" opacity="0.55" filter="url(#blur3)"/><ellipse cx="240.2" cy="304.5" rx="6" ry="6" fill="#1f4a88" opacity="0.55" filter="url(#blur3)"/><ellipse cx="265.9" cy="313.3" rx="6" ry="6" fill="#1f4a88" opacity="0.55" filter="url(#blur3)"/><ellipse cx="291.6" cy="322.0" rx="6" ry="6" fill="#1f4a88" opacity="0.55" filter="url(#blur3)"/><ellipse cx="317.3" cy="330.7" rx="6" ry="6" fill="#1f4a88" opacity="0.55" filter="url(#blur3)"/><path d="M56.0,238.2 L58.6,241.4 L61.2,243.2 L63.8,241.5 L66.3,240.4 L68.9,239.8 L71.5,239.9 L74.1,240.7 L76.7,242.2 L79.3,244.3 L81.8,247.1 L84.4,250.4 L87.0,251.8 L89.6,250.2 L92.2,249.1 L94.8,248.5 L97.4,248.7 L99.9,249.5 L102.5,251.0 L105.1,253.2 L107.7,256.0 L110.3,259.3 L112.9,260.4 L115.5,258.8 L118.0,257.8 L120.6,257.3 L123.2,257.4 L125.8,258.3 L128.4,259.8 L131.0,262.1 L133.5,264.9 L136.1,268.2 L138.7,269.0 L141.3,267.5 L143.9,266.4 L146.5,266.0 L149.1,266.2 L151.6,267.1 L154.2,268.7 L156.8,270.9 L159.4,273.8 L162.0,277.1 L164.6,277.7 L167.2,276.1 L169.7,275.1 L172.3,274.7 L174.9,274.9 L177.5,275.9 L180.1,277.5 L182.7,279.8 L185.2,282.7 L187.8,286.1 L190.4,286.3 L193.0,284.8 L195.6,283.8 L198.2,283.4 L200.8,283.7 L203.3,284.7 L205.9,286.3 L208.5,288.7 L211.1,291.6 L213.7,295.0 L216.3,294.9 L218.8,293.4 L221.4,292.5 L224.0,292.1 L226.6,292.4 L229.2,293.5 L231.8,295.2 L234.4,297.6 L236.9,300.5 L239.5,303.9 L242.1,303.5 L244.7,302.1 L247.3,301.2 L249.9,300.8 L252.5,301.2 L255.0,302.3 L257.6,304.0 L260.2,306.4 L262.8,309.4 L265.4,312.9 L268.0,312.2 L270.5,310.8 L273.1,309.9 L275.7,309.6 L278.3,310.0 L280.9,311.1 L283.5,312.9 L286.1,315.3 L288.6,318.3 L291.2,321.8 L293.8,320.8 L296.4,319.4 L299.0,318.6 L301.6,318.3 L304.2,318.7 L306.7,319.9 L309.3,321.7 L311.9,324.2 L314.5,327.2 L317.1,330.8 L319.7,329.4 L322.2,328.1 L324.8,327.2 L327.4,327.0 L330.0,327.5" fill="none" stroke="#9cc6f2" stroke-opacity="0.55" stroke-width="2" filter="url(#blur1)"/><path d="M330.0,327.5 L332.9,326.7 L335.8,326.5 L338.7,327.0 L341.6,327.9 L344.5,329.5 L347.4,325.6 L350.3,322.2 L353.2,319.3 L356.1,317.1 L359.0,315.6 L361.9,314.7 L364.8,314.6 L367.6,315.0 L370.5,316.0 L373.4,317.6 L376.3,313.6 L379.2,310.2 L382.1,307.4 L385.0,305.2 L387.9,303.6 L390.8,302.8 L393.7,302.6 L396.6,303.1 L399.5,304.0 L402.4,305.6 L405.3,301.7 L408.2,298.3 L411.1,295.4 L414.0,293.2 L416.9,291.7 L419.8,290.8 L422.7,290.7 L425.6,291.1 L428.5,292.1 L431.4,293.7 L434.3,289.7 L437.2,286.3 L440.1,283.5 L442.9,281.3 L445.8,279.7 L448.7,278.9 L451.6,278.7 L454.5,279.2 L457.4,280.1 L460.3,281.7 L463.2,277.8 L466.1,274.4 L469.0,271.5 L471.9,269.3 L474.8,267.8 L477.7,266.9 L480.6,266.8 L483.5,267.2 L486.4,268.2 L489.3,269.8 L492.2,265.8 L495.1,262.4 L498.0,259.6 L500.9,257.4 L503.8,255.8 L506.7,255.0 L509.6,254.8 L512.5,255.3 L515.4,256.3 L518.2,257.8 L521.1,253.9 L524.0,250.5 L526.9,247.6 L529.8,245.4 L532.7,243.9 L535.6,243.0 L538.5,242.9 L541.4,243.3 L544.3,244.3 L547.2,245.9 L550.1,241.9 L553.0,238.5" fill="none" stroke="#9cc6f2" stroke-opacity="0.5" stroke-width="2" filter="url(#blur1)"/></g><path d="M54.0,218.0 L283.0,142.0 L557.0,221.0 L557.0,224.0 L328.0,303.0 L54.0,222.0 Z" fill="#d8d8d8" /><path d="M54.0,218.0 L283.0,142.0 L557.0,221.0 L328.0,297.0 Z" fill="url(#pMesh)" /><path d="M54.0,218.0 L328.0,297.0 L328.0,303.0 L54.0,222.0 Z" fill="#d8d8d8" /><path d="M328.0,297.0 L557.0,221.0 L557.0,224.0 L328.0,303.0 Z" fill="#d2d2d2" /><path d="M54.0,175.0 L300.0,148.0 L558.0,176.0 L334.0,253.0 Z" fill="#dcdcda" filter="url(#nSpeckD)"/><path d="M54.0,175.0 L334.0,253.0 L334.0,281.0 L54.0,205.0 Z" fill="#d8d8d6" filter="url(#nSpeckD)"/><path d="M334.0,253.0 L558.0,176.0 L558.0,205.0 L334.0,281.0 Z" fill="#d5d5d3" filter="url(#nSpeckD)"/><ellipse cx="113" cy="196" rx="16" ry="14" fill="url(#gFold)"/><ellipse cx="200" cy="222" rx="20" ry="16" fill="url(#gFold)"/><ellipse cx="292" cy="240" rx="24" ry="14" fill="url(#gFold)"/><ellipse cx="400" cy="236" rx="28" ry="14" fill="url(#gFold)"/><ellipse cx="470" cy="210" rx="24" ry="12" fill="url(#gFold)"/><ellipse cx="160" cy="180" rx="22" ry="10" fill="url(#gFold)"/><ellipse cx="240" cy="200" rx="18" ry="12" fill="url(#gFold)"/><ellipse cx="510" cy="190" rx="20" ry="10" fill="url(#gFold)"/><path d="M52,138 L83,136 C95,136 100,140 109,138 C125,125 140,118 152,118 C165,118 175,120 186,122 C205,108 220,100 234,99 C250,99 258,102 268,103 L289,90 L300,98 C320,99 335,99 348,99 C365,105 375,112 386,116 C396,115 406,114 416,114 C440,120 465,130 484,134 L559,141 C548,150 540,158 529,163 C515,160 505,160 495,160 C490,162 486,164 484,165 C470,172 460,177 452,180 C440,182 425,184 411,187 C400,200 390,205 380,210 C365,209 350,209 334,209 C322,212 312,214 303,216 C295,217 287,218 280,218 C260,210 230,195 199,190 C185,182 172,175 161,170 C150,165 140,162 128,161 C120,163 110,165 102,165 C85,157 68,148 52,138 Z" fill="#000" opacity="0.22" transform="translate(2,5)" filter="url(#blur4)"/><path d="M52,138 L83,136 C95,136 100,140 109,138 C125,125 140,118 152,118 C165,118 175,120 186,122 C205,108 220,100 234,99 C250,99 258,102 268,103 L289,90 L300,98 C320,99 335,99 348,99 C365,105 375,112 386,116 C396,115 406,114 416,114 C440,120 465,130 484,134 L559,141 C548,150 540,158 529,163 C515,160 505,160 495,160 C490,162 486,164 484,165 C470,172 460,177 452,180 C440,182 425,184 411,187 C400,200 390,205 380,210 C365,209 350,209 334,209 C322,212 312,214 303,216 C295,217 287,218 280,218 C260,210 230,195 199,190 C185,182 172,175 161,170 C150,165 140,162 128,161 C120,163 110,165 102,165 C85,157 68,148 52,138 Z" fill="#f0f0f0" filter="url(#nFine)"/><ellipse cx="150" cy="140" rx="40" ry="14" fill="url(#gHi)"/><ellipse cx="240" cy="125" rx="45" ry="15" fill="url(#gHi)"/><ellipse cx="330" cy="115" rx="40" ry="12" fill="url(#gHi)"/><ellipse cx="430" cy="140" rx="45" ry="14" fill="url(#gHi)"/><ellipse cx="520" cy="150" rx="30" ry="8" fill="url(#gHi)"/><ellipse cx="250" cy="170" rx="45" ry="16" fill="url(#gHi)"/><ellipse cx="360" cy="175" rx="45" ry="16" fill="url(#gHi)"/><ellipse cx="200" cy="158" rx="30" ry="10" fill="url(#gHi)"/><g filter="url(#blur3)" fill="none" stroke="#000"><path d="M109,138 C130,150 150,160 161,170" stroke-opacity="0.08" stroke-width="5"/><path d="M182,122 C190,150 195,175 199,190" stroke-opacity="0.09" stroke-width="6"/><path d="M266,103 C275,140 285,180 300,216" stroke-opacity="0.09" stroke-width="6"/><path d="M348,99 C360,130 372,170 380,210" stroke-opacity="0.09" stroke-width="6"/><path d="M386,116 C400,140 420,165 445,182" stroke-opacity="0.08" stroke-width="6"/><path d="M108,140 C160,138 220,137 265,137 C330,140 420,150 484,160" stroke-opacity="0.07" stroke-width="6"/><path d="M484,134 C486,145 486,155 484,165" stroke-opacity="0.08" stroke-width="4"/></g></g>
<path d="M317.0,158.0 L317.0,169.5 Q311.0,162.5 300.5,153.0 A29.5,29.5 0 1 1 317.0,158.0 Z" fill="url(#rg)" filter="url(#sh)"/><path d="M322.6,112.4 L322.6,144.4 L312.8,144.4 L312.8,123.7 L308.1,127.2 L303.3,121.3 L313.8,112.4 Z" fill="#fff"/>
<path d="M255.2,227.0 L255.2,238.5 Q249.2,231.5 238.7,222.0 A29.5,29.5 0 1 1 255.2,227.0 Z" fill="url(#rg)" filter="url(#sh)"/><text x="254.7" y="214.0" font-size="46" font-weight="bold" fill="#fff" stroke="#fff" stroke-width="2" stroke-linejoin="round" text-anchor="middle">2</text>
<path d="M450.0,244.5 L450.0,256.0 Q444.0,249.0 433.5,239.5 A29.5,29.5 0 1 1 450.0,244.5 Z" fill="url(#rg)" filter="url(#sh)"/><text x="449.5" y="231.5" font-size="46" font-weight="bold" fill="#fff" stroke="#fff" stroke-width="2" stroke-linejoin="round" text-anchor="middle">3</text>
<path d="M331.0,342.0 L331.0,353.5 Q325.0,346.5 314.5,337.0 A29.5,29.5 0 1 1 331.0,342.0 Z" fill="url(#rg)" filter="url(#sh)"/><text x="330.5" y="329.0" font-size="46" font-weight="bold" fill="#fff" stroke="#fff" stroke-width="2" stroke-linejoin="round" text-anchor="middle">4</text>
<path d="M169.0,319.5 L169.0,331.0 Q163.0,324.0 152.5,314.5 A29.5,29.5 0 1 1 169.0,319.5 Z" fill="url(#rg)" filter="url(#sh)"/><text x="168.5" y="306.5" font-size="46" font-weight="bold" fill="#fff" stroke="#fff" stroke-width="2" stroke-linejoin="round" text-anchor="middle">5</text>
<path d="M448.0,346.5 L448.0,358.0 Q442.0,351.0 431.5,341.5 A29.5,29.5 0 1 1 448.0,346.5 Z" fill="url(#rg)" filter="url(#sh)"/><text x="447.5" y="333.5" font-size="46" font-weight="bold" fill="#fff" stroke="#fff" stroke-width="2" stroke-linejoin="round" text-anchor="middle">6</text>
<path d="M375.0,449.0 L375.0,460.5 Q369.0,453.5 358.5,444.0 A29.5,29.5 0 1 1 375.0,449.0 Z" fill="url(#rg)" filter="url(#sh)"/><text x="374.5" y="436.0" font-size="46" font-weight="bold" fill="#fff" stroke="#fff" stroke-width="2" stroke-linejoin="round" text-anchor="middle">7</text>
<path d="M501.0,443.5 L501.0,455.0 Q495.0,448.0 484.5,438.5 A29.5,29.5 0 1 1 501.0,443.5 Z" fill="url(#rg)" filter="url(#sh)"/><text x="500.5" y="430.5" font-size="46" font-weight="bold" fill="#fff" stroke="#fff" stroke-width="2" stroke-linejoin="round" text-anchor="middle">6</text>
<path d="M405.0,515.0 L405.0,526.5 Q399.0,519.5 388.5,510.0 A29.5,29.5 0 1 1 405.0,515.0 Z" fill="url(#rg)" filter="url(#sh)"/><text x="404.5" y="502.0" font-size="46" font-weight="bold" fill="#fff" stroke="#fff" stroke-width="2" stroke-linejoin="round" text-anchor="middle">8</text>
<path d="M341.5,579.0 L341.5,590.5 Q335.5,583.5 325.0,574.0 A29.5,29.5 0 1 1 341.5,579.0 Z" fill="url(#rg)" filter="url(#sh)"/><text x="341.0" y="566.0" font-size="46" font-weight="bold" fill="#fff" stroke="#fff" stroke-width="2" stroke-linejoin="round" text-anchor="middle">9</text>
<path d="M88.0,526.0 L88.0,537.5 Q82.0,530.5 71.5,521.0 A29.5,29.5 0 1 1 88.0,526.0 Z" fill="url(#rg)" filter="url(#sh)"/><text x="87.5" y="513.0" font-size="46" font-weight="bold" fill="#fff" stroke="#fff" stroke-width="2" stroke-linejoin="round" text-anchor="middle">2</text>
<path d="M241.7,574.0 L241.7,585.5 Q235.7,578.5 225.2,569.0 A29.5,29.5 0 1 1 241.7,574.0 Z" fill="url(#rg)" filter="url(#sh)"/><text x="241.2" y="561.0" font-size="46" font-weight="bold" fill="#fff" stroke="#fff" stroke-width="2" stroke-linejoin="round" text-anchor="middle">3</text>
<path d="M321.8,682.5 L321.8,694.0 Q315.8,687.0 305.3,677.5 A29.5,29.5 0 1 1 321.8,682.5 Z" fill="url(#rg)" filter="url(#sh)"/><path d="M327.4,636.9 L327.4,668.9 L317.6,668.9 L317.6,648.2 L312.9,651.7 L308.1,645.8 L318.6,636.9 Z" fill="#fff"/>
<path d="M706.5,69.5 L706.5,81.0 Q700.5,74.0 690.0,64.5 A29.5,29.5 0 1 1 706.5,69.5 Z" fill="url(#rg)" filter="url(#sh)"/><path d="M712.1,23.9 L712.1,55.9 L702.3,55.9 L702.3,35.2 L697.6,38.7 L692.8,32.8 L703.3,23.9 Z" fill="#fff"/>
<text x="777" y="42" font-size="21.7" font-weight="bold" fill="#0a0a0a" stroke="#0a0a0a" stroke-width="0.5" textLength="58" lengthAdjust="spacingAndGlyphs">Cover</text>
<text x="776.5" y="62" font-size="13.6" fill="#1a1a1a" textLength="101" lengthAdjust="spacingAndGlyphs">Removable cover</text>
<path d="M706.5,151.8 L706.5,163.3 Q700.5,156.3 690.0,146.8 A29.5,29.5 0 1 1 706.5,151.8 Z" fill="url(#rg)" filter="url(#sh)"/><text x="706.0" y="138.8" font-size="46" font-weight="bold" fill="#fff" stroke="#fff" stroke-width="2" stroke-linejoin="round" text-anchor="middle">2</text>
<text x="777" y="119.4" font-size="21.7" font-weight="bold" fill="#0a0a0a" stroke="#0a0a0a" stroke-width="0.5" textLength="227" lengthAdjust="spacingAndGlyphs">Air-conditioning fiber</text>
<text x="776.5" y="138.8" font-size="13.6" fill="#1a1a1a" textLength="319" lengthAdjust="spacingAndGlyphs">200g fiber ensures proper ventilation of the mattress.</text>
<path d="M706.5,235.9 L706.5,247.4 Q700.5,240.4 690.0,230.9 A29.5,29.5 0 1 1 706.5,235.9 Z" fill="url(#rg)" filter="url(#sh)"/><text x="706.0" y="222.9" font-size="46" font-weight="bold" fill="#fff" stroke="#fff" stroke-width="2" stroke-linejoin="round" text-anchor="middle">3</text>
<text x="777" y="202.5" font-size="21.7" font-weight="bold" fill="#0a0a0a" stroke="#0a0a0a" stroke-width="0.5" textLength="57.8" lengthAdjust="spacingAndGlyphs">Layer</text>
<text x="776.5" y="222.2" font-size="13.6" fill="#1a1a1a" textLength="134" lengthAdjust="spacingAndGlyphs">Isolating, antibacterial.</text>
<path d="M706.5,318.7 L706.5,330.2 Q700.5,323.2 690.0,313.7 A29.5,29.5 0 1 1 706.5,318.7 Z" fill="url(#rg)" filter="url(#sh)"/><text x="706.0" y="305.7" font-size="46" font-weight="bold" fill="#fff" stroke="#fff" stroke-width="2" stroke-linejoin="round" text-anchor="middle">4</text>
<text x="777" y="284.7" font-size="21.7" font-weight="bold" fill="#0a0a0a" stroke="#0a0a0a" stroke-width="0.5" textLength="55" lengthAdjust="spacingAndGlyphs">Foam</text>
<text x="776.5" y="304" font-size="13.6" fill="#1a1a1a" textLength="383" lengthAdjust="spacingAndGlyphs">It supports muscle regeneration and stimulates gentle massage.</text>
<path d="M706.5,402.0 L706.5,413.5 Q700.5,406.5 690.0,397.0 A29.5,29.5 0 1 1 706.5,402.0 Z" fill="url(#rg)" filter="url(#sh)"/><text x="706.0" y="389.0" font-size="46" font-weight="bold" fill="#fff" stroke="#fff" stroke-width="2" stroke-linejoin="round" text-anchor="middle">5</text>
<text x="777" y="367.5" font-size="21.7" font-weight="bold" fill="#0a0a0a" stroke="#0a0a0a" stroke-width="0.5" textLength="93.7" lengthAdjust="spacingAndGlyphs">Coco mat</text>
<text x="776.5" y="387.5" font-size="13.6" fill="#1a1a1a" textLength="113.7" lengthAdjust="spacingAndGlyphs">Mattress stiffening.</text>
<path d="M706.5,484.8 L706.5,496.3 Q700.5,489.3 690.0,479.8 A29.5,29.5 0 1 1 706.5,484.8 Z" fill="url(#rg)" filter="url(#sh)"/><text x="706.0" y="471.8" font-size="46" font-weight="bold" fill="#fff" stroke="#fff" stroke-width="2" stroke-linejoin="round" text-anchor="middle">6</text>
<text x="777" y="449.4" font-size="21.7" font-weight="bold" fill="#0a0a0a" stroke="#0a0a0a" stroke-width="0.5" textLength="144.7" lengthAdjust="spacingAndGlyphs">Support layer</text>
<text x="776.5" y="469" font-size="13.6" fill="#1a1a1a" textLength="255" lengthAdjust="spacingAndGlyphs">It supports the operation of pocket springs.</text>
<path d="M706.5,565.7 L706.5,577.2 Q700.5,570.2 690.0,560.7 A29.5,29.5 0 1 1 706.5,565.7 Z" fill="url(#rg)" filter="url(#sh)"/><text x="706.0" y="552.7" font-size="46" font-weight="bold" fill="#fff" stroke="#fff" stroke-width="2" stroke-linejoin="round" text-anchor="middle">7</text>
<text x="777" y="537.5" font-size="21.7" font-weight="bold" fill="#0a0a0a" stroke="#0a0a0a" stroke-width="0.5" textLength="150.6" lengthAdjust="spacingAndGlyphs">Pocket springs</text>
<text x="776.5" y="555.9" font-size="13.6" fill="#1a1a1a" textLength="181.3" lengthAdjust="spacingAndGlyphs">Thanks to their point flexibility</text>
<text x="776.5" y="571.7" font-size="13.6" fill="#1a1a1a" textLength="456.7" lengthAdjust="spacingAndGlyphs">guarantee a better adaptation of mattress shape to the contours of the body.</text>
<path d="M706.5,644.0 L706.5,655.5 Q700.5,648.5 690.0,639.0 A29.5,29.5 0 1 1 706.5,644.0 Z" fill="url(#rg)" filter="url(#sh)"/><text x="706.0" y="631.0" font-size="46" font-weight="bold" fill="#fff" stroke="#fff" stroke-width="2" stroke-linejoin="round" text-anchor="middle">8</text>
<text x="777" y="610.3" font-size="21.7" font-weight="bold" fill="#0a0a0a" stroke="#0a0a0a" stroke-width="0.5" textLength="262.2" lengthAdjust="spacingAndGlyphs">Needle non-woven fabric</text>
<text x="776.5" y="629.4" font-size="13.6" fill="#1a1a1a" textLength="139" lengthAdjust="spacingAndGlyphs">Mattress reinforcement</text>
<path d="M706.5,723.0 L706.5,734.5 Q700.5,727.5 690.0,718.0 A29.5,29.5 0 1 1 706.5,723.0 Z" fill="url(#rg)" filter="url(#sh)"/><text x="706.0" y="710.0" font-size="46" font-weight="bold" fill="#fff" stroke="#fff" stroke-width="2" stroke-linejoin="round" text-anchor="middle">9</text>
<text x="777" y="692.5" font-size="21.7" font-weight="bold" fill="#0a0a0a" stroke="#0a0a0a" stroke-width="0.5" textLength="87.8" lengthAdjust="spacingAndGlyphs">PU foam</text>
<text x="776.5" y="712" font-size="13.6" fill="#1a1a1a" textLength="418" lengthAdjust="spacingAndGlyphs">Polyurethane foam characterized by elasticity and resistance to dents.</text>
</svg></body></html>
